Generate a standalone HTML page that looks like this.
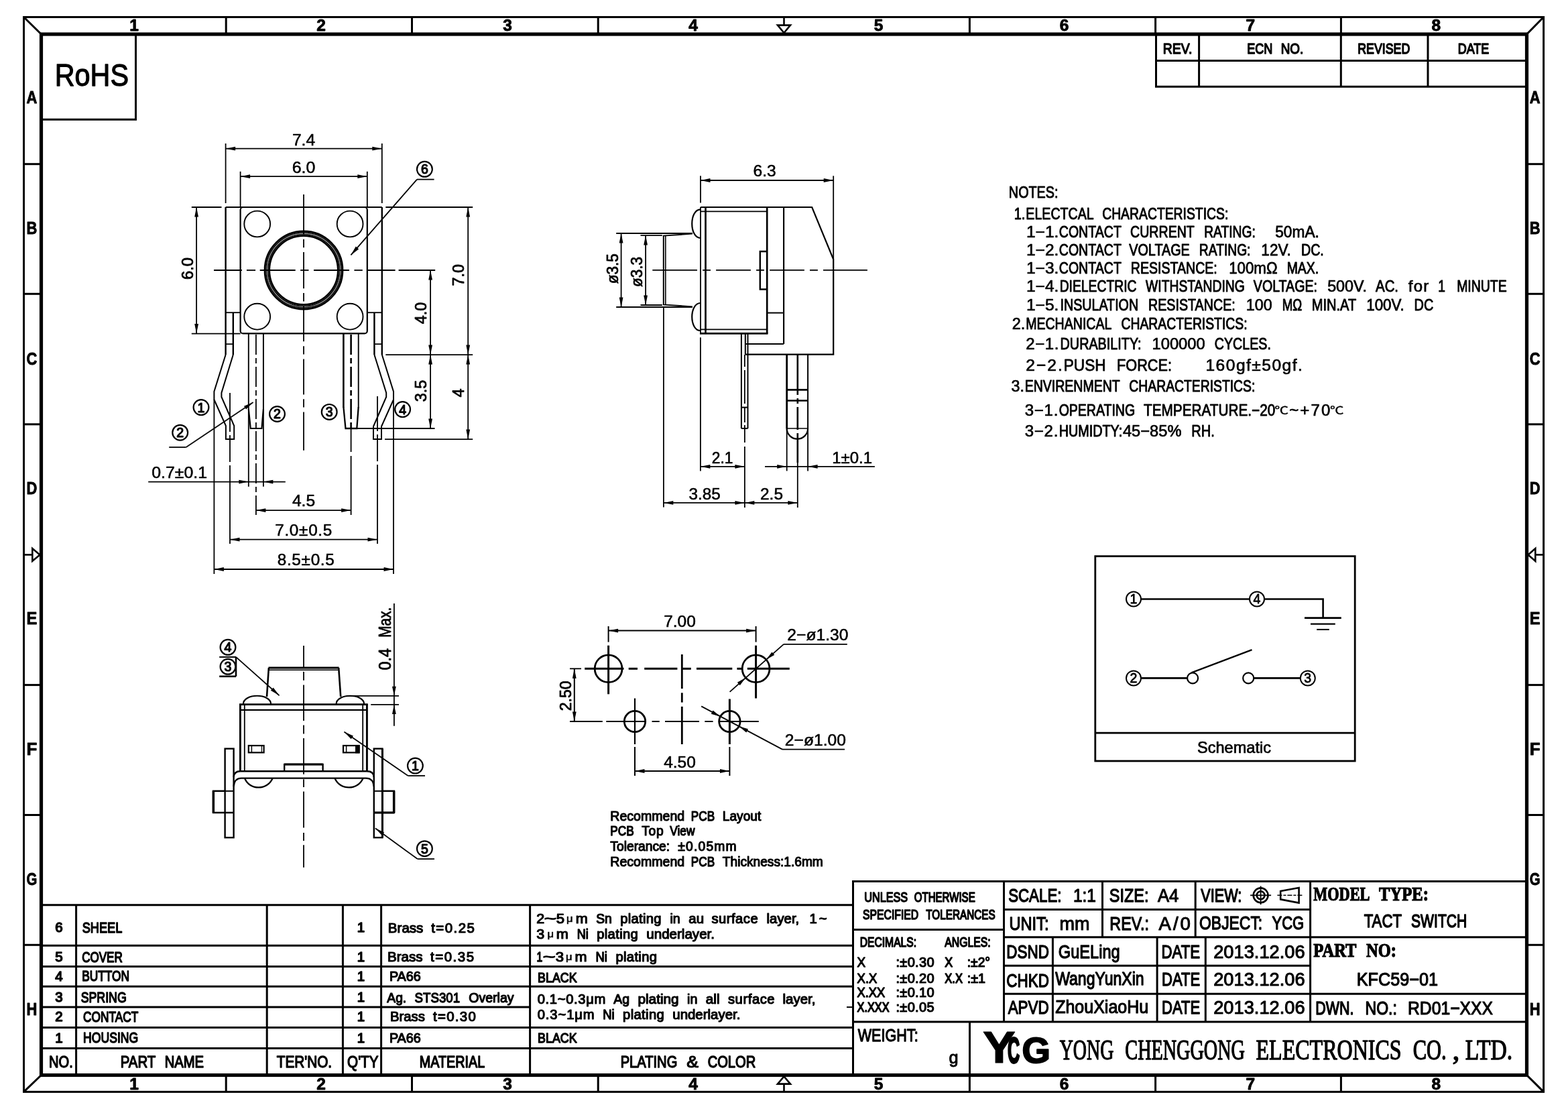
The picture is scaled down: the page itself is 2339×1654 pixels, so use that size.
<!DOCTYPE html>
<html lang="en"><head><meta charset="utf-8"><title>KFC59-01 TACT SWITCH</title>
<style>
html,body{margin:0;padding:0;background:#fff}
body{width:2339px;height:1654px;overflow:hidden}
svg{display:block;will-change:transform}
text{stroke:none;fill:#000;font-family:"Liberation Sans","Noto Sans CJK SC",sans-serif}
text.b{font-weight:bold}
text.s{font-family:"Liberation Serif","Noto Serif CJK SC",serif}
text.sb{font-family:"Liberation Serif","Noto Serif CJK SC",serif;font-weight:bold}
</style></head><body>
<svg width="2339" height="1654" viewBox="0 0 2339 1654" fill="none" stroke="#000">
<rect x="0" y="0" width="2339" height="1654" fill="#fff" stroke="none"/>
<g id="frame">
<rect x="35.5" y="25.5" width="2267.1" height="1602.9" stroke-width="3" fill="none"/>
<rect x="61.5" y="51" width="2216" height="1552.5" stroke-width="5.2" fill="none"/>
<line x1="35.5" y1="25.5" x2="61.5" y2="51" stroke-width="3"/>
<line x1="2302.6" y1="25.5" x2="2277.5" y2="51" stroke-width="3"/>
<line x1="35.5" y1="1628.4" x2="61.5" y2="1603.5" stroke-width="3"/>
<line x1="2302.6" y1="1628.4" x2="2277.5" y2="1603.5" stroke-width="3"/>
<line x1="337.2" y1="25.5" x2="337.2" y2="51" stroke-width="3"/>
<line x1="337.2" y1="1603.5" x2="337.2" y2="1628.4" stroke-width="3"/>
<line x1="614.5" y1="25.5" x2="614.5" y2="51" stroke-width="3"/>
<line x1="614.5" y1="1603.5" x2="614.5" y2="1628.4" stroke-width="3"/>
<line x1="892.2" y1="25.5" x2="892.2" y2="51" stroke-width="3"/>
<line x1="892.2" y1="1603.5" x2="892.2" y2="1628.4" stroke-width="3"/>
<line x1="1446.4" y1="25.5" x2="1446.4" y2="51" stroke-width="3"/>
<line x1="1446.4" y1="1603.5" x2="1446.4" y2="1628.4" stroke-width="3"/>
<line x1="1723.6" y1="25.5" x2="1723.6" y2="51" stroke-width="3"/>
<line x1="1723.6" y1="1603.5" x2="1723.6" y2="1628.4" stroke-width="3"/>
<line x1="2000.4" y1="25.5" x2="2000.4" y2="51" stroke-width="3"/>
<line x1="2000.4" y1="1603.5" x2="2000.4" y2="1628.4" stroke-width="3"/>
<line x1="35.5" y1="244.7" x2="61.5" y2="244.7" stroke-width="3"/>
<line x1="2277.5" y1="244.7" x2="2302.6" y2="244.7" stroke-width="3"/>
<line x1="35.5" y1="438.3" x2="61.5" y2="438.3" stroke-width="3"/>
<line x1="2277.5" y1="438.3" x2="2302.6" y2="438.3" stroke-width="3"/>
<line x1="35.5" y1="632.8" x2="61.5" y2="632.8" stroke-width="3"/>
<line x1="2277.5" y1="632.8" x2="2302.6" y2="632.8" stroke-width="3"/>
<line x1="35.5" y1="1021.6" x2="61.5" y2="1021.6" stroke-width="3"/>
<line x1="2277.5" y1="1021.6" x2="2302.6" y2="1021.6" stroke-width="3"/>
<line x1="35.5" y1="1215.5" x2="61.5" y2="1215.5" stroke-width="3"/>
<line x1="2277.5" y1="1215.5" x2="2302.6" y2="1215.5" stroke-width="3"/>
<line x1="35.5" y1="1409.3" x2="61.5" y2="1409.3" stroke-width="3"/>
<line x1="2277.5" y1="1409.3" x2="2302.6" y2="1409.3" stroke-width="3"/>
<line x1="1169.5" y1="25.5" x2="1169.5" y2="37.5" stroke-width="2.6"/>
<path d="M1160 37.6 L1179 37.6 L1169.5 49 Z" stroke-width="2.6" fill="none" stroke-linejoin="miter"/>
<line x1="1169.5" y1="1628.4" x2="1169.5" y2="1616.5" stroke-width="2.6"/>
<path d="M1160 1616.6 L1179 1616.6 L1169.5 1605.5 Z" stroke-width="2.6" fill="none" stroke-linejoin="miter"/>
<line x1="35.5" y1="827.4" x2="48" y2="827.4" stroke-width="2.6"/>
<path d="M48.3 818 L48.3 836.8 L59.5 827.4 Z" stroke-width="2.6" fill="none" stroke-linejoin="miter"/>
<line x1="2302.6" y1="827.4" x2="2290.5" y2="827.4" stroke-width="2.6"/>
<path d="M2290.3 818 L2290.3 836.8 L2279.5 827.4 Z" stroke-width="2.6" fill="none" stroke-linejoin="miter"/>
<text class="b" x="200" y="46.3" font-size="24.5" text-anchor="middle" style="stroke:#000;stroke-width:0.9px;stroke-linejoin:round">1</text>
<text class="b" x="200" y="1625" font-size="24.5" text-anchor="middle" style="stroke:#000;stroke-width:0.9px;stroke-linejoin:round">1</text>
<text class="b" x="479" y="46.3" font-size="24.5" text-anchor="middle" style="stroke:#000;stroke-width:0.9px;stroke-linejoin:round">2</text>
<text class="b" x="479" y="1625" font-size="24.5" text-anchor="middle" style="stroke:#000;stroke-width:0.9px;stroke-linejoin:round">2</text>
<text class="b" x="757" y="46.3" font-size="24.5" text-anchor="middle" style="stroke:#000;stroke-width:0.9px;stroke-linejoin:round">3</text>
<text class="b" x="757" y="1625" font-size="24.5" text-anchor="middle" style="stroke:#000;stroke-width:0.9px;stroke-linejoin:round">3</text>
<text class="b" x="1034" y="46.3" font-size="24.5" text-anchor="middle" style="stroke:#000;stroke-width:0.9px;stroke-linejoin:round">4</text>
<text class="b" x="1034" y="1625" font-size="24.5" text-anchor="middle" style="stroke:#000;stroke-width:0.9px;stroke-linejoin:round">4</text>
<text class="b" x="1310.5" y="46.3" font-size="24.5" text-anchor="middle" style="stroke:#000;stroke-width:0.9px;stroke-linejoin:round">5</text>
<text class="b" x="1310.5" y="1625" font-size="24.5" text-anchor="middle" style="stroke:#000;stroke-width:0.9px;stroke-linejoin:round">5</text>
<text class="b" x="1587.5" y="46.3" font-size="24.5" text-anchor="middle" style="stroke:#000;stroke-width:0.9px;stroke-linejoin:round">6</text>
<text class="b" x="1587.5" y="1625" font-size="24.5" text-anchor="middle" style="stroke:#000;stroke-width:0.9px;stroke-linejoin:round">6</text>
<text class="b" x="1865.3" y="46.3" font-size="24.5" text-anchor="middle" style="stroke:#000;stroke-width:0.9px;stroke-linejoin:round">7</text>
<text class="b" x="1865.3" y="1625" font-size="24.5" text-anchor="middle" style="stroke:#000;stroke-width:0.9px;stroke-linejoin:round">7</text>
<text class="b" x="2142.3" y="46.3" font-size="24.5" text-anchor="middle" style="stroke:#000;stroke-width:0.9px;stroke-linejoin:round">8</text>
<text class="b" x="2142.3" y="1625" font-size="24.5" text-anchor="middle" style="stroke:#000;stroke-width:0.9px;stroke-linejoin:round">8</text>
<text class="b" x="39.57" y="154.2" font-size="26.5" textLength="15.86" lengthAdjust="spacingAndGlyphs" style="stroke:#000;stroke-width:0.9px;stroke-linejoin:round">A</text>
<text class="b" x="2281.67" y="154.2" font-size="26.5" textLength="15.85" lengthAdjust="spacingAndGlyphs" style="stroke:#000;stroke-width:0.9px;stroke-linejoin:round">A</text>
<text class="b" x="39.57" y="349.2" font-size="26.5" textLength="15.86" lengthAdjust="spacingAndGlyphs" style="stroke:#000;stroke-width:0.9px;stroke-linejoin:round">B</text>
<text class="b" x="2281.67" y="349.2" font-size="26.5" textLength="15.85" lengthAdjust="spacingAndGlyphs" style="stroke:#000;stroke-width:0.9px;stroke-linejoin:round">B</text>
<text class="b" x="39.57" y="544.2" font-size="26.5" textLength="15.86" lengthAdjust="spacingAndGlyphs" style="stroke:#000;stroke-width:0.9px;stroke-linejoin:round">C</text>
<text class="b" x="2281.67" y="544.2" font-size="26.5" textLength="15.85" lengthAdjust="spacingAndGlyphs" style="stroke:#000;stroke-width:0.9px;stroke-linejoin:round">C</text>
<text class="b" x="39.57" y="737.2" font-size="26.5" textLength="15.86" lengthAdjust="spacingAndGlyphs" style="stroke:#000;stroke-width:0.9px;stroke-linejoin:round">D</text>
<text class="b" x="2281.67" y="737.2" font-size="26.5" textLength="15.85" lengthAdjust="spacingAndGlyphs" style="stroke:#000;stroke-width:0.9px;stroke-linejoin:round">D</text>
<text class="b" x="39.57" y="931.2" font-size="26.5" textLength="15.86" lengthAdjust="spacingAndGlyphs" style="stroke:#000;stroke-width:0.9px;stroke-linejoin:round">E</text>
<text class="b" x="2281.67" y="931.2" font-size="26.5" textLength="15.85" lengthAdjust="spacingAndGlyphs" style="stroke:#000;stroke-width:0.9px;stroke-linejoin:round">E</text>
<text class="b" x="39.57" y="1125.7" font-size="26.5" textLength="15.86" lengthAdjust="spacingAndGlyphs" style="stroke:#000;stroke-width:0.9px;stroke-linejoin:round">F</text>
<text class="b" x="2281.67" y="1125.7" font-size="26.5" textLength="15.85" lengthAdjust="spacingAndGlyphs" style="stroke:#000;stroke-width:0.9px;stroke-linejoin:round">F</text>
<text class="b" x="39.57" y="1320.2" font-size="26.5" textLength="15.86" lengthAdjust="spacingAndGlyphs" style="stroke:#000;stroke-width:0.9px;stroke-linejoin:round">G</text>
<text class="b" x="2281.67" y="1320.2" font-size="26.5" textLength="15.85" lengthAdjust="spacingAndGlyphs" style="stroke:#000;stroke-width:0.9px;stroke-linejoin:round">G</text>
<text class="b" x="39.57" y="1514.2" font-size="26.5" textLength="15.86" lengthAdjust="spacingAndGlyphs" style="stroke:#000;stroke-width:0.9px;stroke-linejoin:round">H</text>
<text class="b" x="2281.67" y="1514.2" font-size="26.5" textLength="15.85" lengthAdjust="spacingAndGlyphs" style="stroke:#000;stroke-width:0.9px;stroke-linejoin:round">H</text>
<line x1="202.5" y1="51" x2="202.5" y2="178.3" stroke-width="3"/>
<line x1="61.5" y1="178.3" x2="204" y2="178.3" stroke-width="3"/>
<text class="t" x="81.76" y="128.2" font-size="47" textLength="110.19" lengthAdjust="spacingAndGlyphs" style="stroke:#000;stroke-width:1.26px;stroke-linejoin:round">RoHS</text>
<line x1="1724.5" y1="51" x2="1724.5" y2="129.2" stroke-width="3"/>
<line x1="1723" y1="129.2" x2="2277.5" y2="129.2" stroke-width="3"/>
<line x1="1723" y1="90.4" x2="2277.5" y2="90.4" stroke-width="3"/>
<line x1="1788.6" y1="51" x2="1788.6" y2="129.2" stroke-width="3"/>
<line x1="2000.3" y1="51" x2="2000.3" y2="129.2" stroke-width="3"/>
<line x1="2130" y1="51" x2="2130" y2="129.2" stroke-width="3"/>
<text class="t" x="1734.72" y="79.8" font-size="22.4" textLength="43.57" lengthAdjust="spacingAndGlyphs" style="stroke:#000;stroke-width:1.37px;stroke-linejoin:round">REV.</text>
<text class="t" x="1860.22" y="79.8" font-size="22.4" textLength="38.07" lengthAdjust="spacingAndGlyphs" style="stroke:#000;stroke-width:1.49px;stroke-linejoin:round">ECN</text>
<text class="t" x="1910.72" y="79.8" font-size="22.4" textLength="33.57" lengthAdjust="spacingAndGlyphs" style="stroke:#000;stroke-width:1.41px;stroke-linejoin:round">NO.</text>
<text class="t" x="2025.22" y="79.8" font-size="22.4" textLength="78.07" lengthAdjust="spacingAndGlyphs" style="stroke:#000;stroke-width:1.51px;stroke-linejoin:round">REVISED</text>
<text class="t" x="2174.72" y="79.8" font-size="22.4" textLength="46.57" lengthAdjust="spacingAndGlyphs" style="stroke:#000;stroke-width:1.5px;stroke-linejoin:round">DATE</text>
</g>
<g id="bom">
<line x1="61.5" y1="1349.8" x2="1272.5" y2="1349.8" stroke-width="3"/>
<line x1="61.5" y1="1410.3" x2="1272.5" y2="1410.3" stroke-width="3"/>
<line x1="61.5" y1="1441.5" x2="1272.5" y2="1441.5" stroke-width="3"/>
<line x1="61.5" y1="1471.2" x2="1272.5" y2="1471.2" stroke-width="3"/>
<line x1="61.5" y1="1532.5" x2="1272.5" y2="1532.5" stroke-width="3"/>
<line x1="61.5" y1="1563.6" x2="1272.5" y2="1563.6" stroke-width="3"/>
<line x1="61.5" y1="1502.1" x2="790.6" y2="1502.1" stroke-width="3"/>
<line x1="113.6" y1="1349.8" x2="113.6" y2="1603.5" stroke-width="3"/>
<line x1="398.2" y1="1349.8" x2="398.2" y2="1603.5" stroke-width="3"/>
<line x1="511.4" y1="1349.8" x2="511.4" y2="1603.5" stroke-width="3"/>
<line x1="568.6" y1="1349.8" x2="568.6" y2="1603.5" stroke-width="3"/>
<line x1="790.6" y1="1349.8" x2="790.6" y2="1603.5" stroke-width="3"/>
<text class="t" x="88" y="1390" font-size="20.4" text-anchor="middle" style="stroke:#000;stroke-width:1.5px;stroke-linejoin:round">6</text>
<text class="t" x="88" y="1434" font-size="20.4" text-anchor="middle" style="stroke:#000;stroke-width:1.5px;stroke-linejoin:round">5</text>
<text class="t" x="88" y="1463.3" font-size="20.4" text-anchor="middle" style="stroke:#000;stroke-width:1.5px;stroke-linejoin:round">4</text>
<text class="t" x="88" y="1493.6" font-size="20.4" text-anchor="middle" style="stroke:#000;stroke-width:1.5px;stroke-linejoin:round">3</text>
<text class="t" x="88" y="1522.6" font-size="20.4" text-anchor="middle" style="stroke:#000;stroke-width:1.5px;stroke-linejoin:round">2</text>
<text class="t" x="88" y="1554.6" font-size="20.4" text-anchor="middle" style="stroke:#000;stroke-width:1.5px;stroke-linejoin:round">1</text>
<text class="t" x="538.4" y="1390" font-size="20.4" text-anchor="middle" style="stroke:#000;stroke-width:1.5px;stroke-linejoin:round">1</text>
<text class="t" x="538.4" y="1434" font-size="20.4" text-anchor="middle" style="stroke:#000;stroke-width:1.5px;stroke-linejoin:round">1</text>
<text class="t" x="538.4" y="1463.3" font-size="20.4" text-anchor="middle" style="stroke:#000;stroke-width:1.5px;stroke-linejoin:round">1</text>
<text class="t" x="538.4" y="1493.6" font-size="20.4" text-anchor="middle" style="stroke:#000;stroke-width:1.5px;stroke-linejoin:round">1</text>
<text class="t" x="538.4" y="1522.6" font-size="20.4" text-anchor="middle" style="stroke:#000;stroke-width:1.5px;stroke-linejoin:round">1</text>
<text class="t" x="538.4" y="1554.6" font-size="20.4" text-anchor="middle" style="stroke:#000;stroke-width:1.5px;stroke-linejoin:round">1</text>
<text class="t" x="122.65" y="1391.4" font-size="21.5" textLength="59.6" lengthAdjust="spacingAndGlyphs" style="stroke:#000;stroke-width:1.41px;stroke-linejoin:round">SHEEL</text>
<text class="t" x="122.15" y="1435.4" font-size="21.5" textLength="60.6" lengthAdjust="spacingAndGlyphs" style="stroke:#000;stroke-width:1.52px;stroke-linejoin:round">COVER</text>
<text class="t" x="122.15" y="1463.2" font-size="21.5" textLength="70.8" lengthAdjust="spacingAndGlyphs" style="stroke:#000;stroke-width:1.49px;stroke-linejoin:round">BUTTON</text>
<text class="t" x="120.65" y="1495" font-size="21.5" textLength="68.1" lengthAdjust="spacingAndGlyphs" style="stroke:#000;stroke-width:1.45px;stroke-linejoin:round">SPRING</text>
<text class="t" x="124.05" y="1524" font-size="21.5" textLength="82.2" lengthAdjust="spacingAndGlyphs" style="stroke:#000;stroke-width:1.49px;stroke-linejoin:round">CONTACT</text>
<text class="t" x="124.05" y="1554.6" font-size="21.5" textLength="82.2" lengthAdjust="spacingAndGlyphs" style="stroke:#000;stroke-width:1.46px;stroke-linejoin:round">HOUSING</text>
<text class="t" x="73.06" y="1591.8" font-size="24" textLength="35.68" lengthAdjust="spacingAndGlyphs" style="stroke:#000;stroke-width:1.42px;stroke-linejoin:round">NO.</text>
<text class="t" x="179.76" y="1591.8" font-size="24" textLength="52.58" lengthAdjust="spacingAndGlyphs" style="stroke:#000;stroke-width:1.39px;stroke-linejoin:round">PART</text>
<text class="t" x="245.66" y="1591.8" font-size="24" textLength="58.38" lengthAdjust="spacingAndGlyphs" style="stroke:#000;stroke-width:1.41px;stroke-linejoin:round">NAME</text>
<text class="t" x="412.76" y="1591.8" font-size="24" textLength="82.38" lengthAdjust="spacingAndGlyphs" style="stroke:#000;stroke-width:1.37px;stroke-linejoin:round">TER&#x27;NO.</text>
<text class="t" x="518.06" y="1591.8" font-size="24" textLength="46.48" lengthAdjust="spacingAndGlyphs" style="stroke:#000;stroke-width:1.37px;stroke-linejoin:round">Q&#x27;TY</text>
<text class="t" x="625.76" y="1591.6" font-size="24" textLength="97.38" lengthAdjust="spacingAndGlyphs" style="stroke:#000;stroke-width:1.45px;stroke-linejoin:round">MATERIAL</text>
<text class="t" x="925.66" y="1591.6" font-size="24" textLength="84.68" lengthAdjust="spacingAndGlyphs" style="stroke:#000;stroke-width:1.42px;stroke-linejoin:round">PLATING</text>
<text class="t" x="1024.16" y="1591.6" font-size="24" textLength="17.68" lengthAdjust="spacingAndGlyphs" style="stroke:#000;stroke-width:1.15px;stroke-linejoin:round">&amp;</text>
<text class="t" x="1055.66" y="1591.6" font-size="24" textLength="71.58" lengthAdjust="spacingAndGlyphs" style="stroke:#000;stroke-width:1.42px;stroke-linejoin:round">COLOR</text>
</g>
<g id="bomtext">
<text class="t" x="578.89" y="1390.5" font-size="20.4" textLength="52.43" lengthAdjust="spacingAndGlyphs" style="stroke:#000;stroke-width:1.18px;stroke-linejoin:round">Brass</text>
<text class="t" x="643.19" y="1390.5" font-size="20.4" textLength="64.63" lengthAdjust="spacing" style="stroke:#000;stroke-width:1.18px;stroke-linejoin:round">t=0.25</text>
<text class="t" x="578.09" y="1434.4" font-size="20.4" textLength="52.43" lengthAdjust="spacingAndGlyphs" style="stroke:#000;stroke-width:1.18px;stroke-linejoin:round">Brass</text>
<text class="t" x="642.09" y="1434.4" font-size="20.4" textLength="64.93" lengthAdjust="spacing" style="stroke:#000;stroke-width:1.18px;stroke-linejoin:round">t=0.35</text>
<text class="t" x="580.89" y="1463.4" font-size="20.4" textLength="46.93" lengthAdjust="spacingAndGlyphs" style="stroke:#000;stroke-width:1.22px;stroke-linejoin:round">PA66</text>
<text class="t" x="577.29" y="1494.7" font-size="20.4" textLength="28.93" lengthAdjust="spacingAndGlyphs" style="stroke:#000;stroke-width:1.25px;stroke-linejoin:round">Ag.</text>
<text class="t" x="618.59" y="1494.7" font-size="20.4" textLength="67.53" lengthAdjust="spacingAndGlyphs" style="stroke:#000;stroke-width:1.3px;stroke-linejoin:round">STS301</text>
<text class="t" x="699.29" y="1494.7" font-size="20.4" textLength="67.33" lengthAdjust="spacingAndGlyphs" style="stroke:#000;stroke-width:1.24px;stroke-linejoin:round">Overlay</text>
<text class="t" x="581.99" y="1522.6" font-size="20.4" textLength="51.93" lengthAdjust="spacingAndGlyphs" style="stroke:#000;stroke-width:1.18px;stroke-linejoin:round">Brass</text>
<text class="t" x="645.99" y="1522.6" font-size="20.4" textLength="63.73" lengthAdjust="spacing" style="stroke:#000;stroke-width:1.18px;stroke-linejoin:round">t=0.30</text>
<text class="t" x="580.89" y="1555.1" font-size="20.4" textLength="46.93" lengthAdjust="spacingAndGlyphs" style="stroke:#000;stroke-width:1.22px;stroke-linejoin:round">PA66</text>
<text class="t" x="800.39" y="1376.7" font-size="20.2" textLength="11.91" lengthAdjust="spacingAndGlyphs" style="stroke:#000;stroke-width:1.18px;stroke-linejoin:round">2</text>
<text class="t" x="811.79" y="1376.7" font-size="20.2" textLength="18.41" lengthAdjust="spacingAndGlyphs" style="stroke:#000;stroke-width:1.18px;stroke-linejoin:round">~</text>
<text class="t" x="829.79" y="1376.7" font-size="20.2" textLength="12.31" lengthAdjust="spacingAndGlyphs" style="stroke:#000;stroke-width:1.18px;stroke-linejoin:round">5</text>
<text class="t" x="858.69" y="1376.7" font-size="20.2" textLength="18.01" lengthAdjust="spacingAndGlyphs" style="stroke:#000;stroke-width:1.18px;stroke-linejoin:round">m</text>
<text class="t" x="889.19" y="1376.7" font-size="20.2" textLength="23.61" lengthAdjust="spacingAndGlyphs" style="stroke:#000;stroke-width:1.24px;stroke-linejoin:round">Sn</text>
<text class="t" x="925.19" y="1376.7" font-size="20.2" textLength="61.41" lengthAdjust="spacing" style="stroke:#000;stroke-width:1.18px;stroke-linejoin:round">plating</text>
<text class="t" x="999.49" y="1376.7" font-size="20.2" textLength="15.31" lengthAdjust="spacingAndGlyphs" style="stroke:#000;stroke-width:1.21px;stroke-linejoin:round">in</text>
<text class="t" x="1027.29" y="1376.7" font-size="20.2" textLength="22.71" lengthAdjust="spacingAndGlyphs" style="stroke:#000;stroke-width:1.18px;stroke-linejoin:round">au</text>
<text class="t" x="1061.39" y="1376.7" font-size="20.2" textLength="69.31" lengthAdjust="spacing" style="stroke:#000;stroke-width:1.18px;stroke-linejoin:round">surface</text>
<text class="t" x="1143.59" y="1376.7" font-size="20.2" textLength="48.71" lengthAdjust="spacingAndGlyphs" style="stroke:#000;stroke-width:1.18px;stroke-linejoin:round">layer,</text>
<text class="t" x="1207.59" y="1376.7" font-size="20.2" textLength="25.91" lengthAdjust="spacing" style="stroke:#000;stroke-width:1.18px;stroke-linejoin:round">1~</text>
<text class="t" x="800.39" y="1399.5" font-size="20.2" textLength="11.91" lengthAdjust="spacingAndGlyphs" style="stroke:#000;stroke-width:1.18px;stroke-linejoin:round">3</text>
<text class="t" x="829.79" y="1399.5" font-size="20.2" textLength="18.11" lengthAdjust="spacingAndGlyphs" style="stroke:#000;stroke-width:1.18px;stroke-linejoin:round">m</text>
<text class="t" x="860.79" y="1399.5" font-size="20.2" textLength="17.01" lengthAdjust="spacingAndGlyphs" style="stroke:#000;stroke-width:1.34px;stroke-linejoin:round">Ni</text>
<text class="t" x="890.19" y="1399.5" font-size="20.2" textLength="61.61" lengthAdjust="spacing" style="stroke:#000;stroke-width:1.18px;stroke-linejoin:round">plating</text>
<text class="t" x="964.29" y="1399.5" font-size="20.2" textLength="101.71" lengthAdjust="spacingAndGlyphs" style="stroke:#000;stroke-width:1.18px;stroke-linejoin:round">underlayer.</text>
<text class="t" x="800.49" y="1433.9" font-size="20.2" textLength="8.71" lengthAdjust="spacingAndGlyphs" style="stroke:#000;stroke-width:1.55px;stroke-linejoin:round">1</text>
<text class="t" x="809.79" y="1433.9" font-size="20.2" textLength="18.91" lengthAdjust="spacingAndGlyphs" style="stroke:#000;stroke-width:1.18px;stroke-linejoin:round">~</text>
<text class="t" x="828.79" y="1433.9" font-size="20.2" textLength="12.31" lengthAdjust="spacingAndGlyphs" style="stroke:#000;stroke-width:1.18px;stroke-linejoin:round">3</text>
<text class="t" x="857.59" y="1433.9" font-size="20.2" textLength="18.01" lengthAdjust="spacingAndGlyphs" style="stroke:#000;stroke-width:1.18px;stroke-linejoin:round">m</text>
<text class="t" x="888.49" y="1433.9" font-size="20.2" textLength="17.41" lengthAdjust="spacingAndGlyphs" style="stroke:#000;stroke-width:1.3px;stroke-linejoin:round">Ni</text>
<text class="t" x="918.39" y="1433.9" font-size="20.2" textLength="61.61" lengthAdjust="spacing" style="stroke:#000;stroke-width:1.18px;stroke-linejoin:round">plating</text>
<text class="t" x="845.08" y="1374.7" font-size="15" textLength="9.55" lengthAdjust="spacingAndGlyphs" style="stroke:#000;stroke-width:0.59px;stroke-linejoin:round">μ</text>
<text class="t" x="816.48" y="1397.5" font-size="15" textLength="9.55" lengthAdjust="spacingAndGlyphs" style="stroke:#000;stroke-width:0.59px;stroke-linejoin:round">μ</text>
<text class="t" x="844.08" y="1431.9" font-size="15" textLength="9.55" lengthAdjust="spacingAndGlyphs" style="stroke:#000;stroke-width:0.59px;stroke-linejoin:round">μ</text>
<text class="t" x="802.09" y="1465.2" font-size="20.4" textLength="58.63" lengthAdjust="spacingAndGlyphs" style="stroke:#000;stroke-width:1.36px;stroke-linejoin:round">BLACK</text>
<text class="t" x="801.69" y="1497.3" font-size="20.2" textLength="101.71" lengthAdjust="spacing" style="stroke:#000;stroke-width:1.18px;stroke-linejoin:round">0.1~0.3μm</text>
<text class="t" x="915.19" y="1497.3" font-size="20.2" textLength="23.81" lengthAdjust="spacingAndGlyphs" style="stroke:#000;stroke-width:1.23px;stroke-linejoin:round">Ag</text>
<text class="t" x="951.49" y="1497.3" font-size="20.2" textLength="61.11" lengthAdjust="spacingAndGlyphs" style="stroke:#000;stroke-width:1.18px;stroke-linejoin:round">plating</text>
<text class="t" x="1025.09" y="1497.3" font-size="20.2" textLength="15.31" lengthAdjust="spacingAndGlyphs" style="stroke:#000;stroke-width:1.21px;stroke-linejoin:round">in</text>
<text class="t" x="1052.89" y="1497.3" font-size="20.2" textLength="20.61" lengthAdjust="spacingAndGlyphs" style="stroke:#000;stroke-width:1.18px;stroke-linejoin:round">all</text>
<text class="t" x="1085.89" y="1497.3" font-size="20.2" textLength="69.71" lengthAdjust="spacing" style="stroke:#000;stroke-width:1.18px;stroke-linejoin:round">surface</text>
<text class="t" x="1167.49" y="1497.3" font-size="20.2" textLength="48.91" lengthAdjust="spacingAndGlyphs" style="stroke:#000;stroke-width:1.18px;stroke-linejoin:round">layer,</text>
<text class="t" x="801.69" y="1520.3" font-size="20.2" textLength="85.01" lengthAdjust="spacing" style="stroke:#000;stroke-width:1.18px;stroke-linejoin:round">0.3~1μm</text>
<text class="t" x="899.19" y="1520.3" font-size="20.2" textLength="17.41" lengthAdjust="spacingAndGlyphs" style="stroke:#000;stroke-width:1.3px;stroke-linejoin:round">Ni</text>
<text class="t" x="929.09" y="1520.3" font-size="20.2" textLength="61.61" lengthAdjust="spacing" style="stroke:#000;stroke-width:1.18px;stroke-linejoin:round">plating</text>
<text class="t" x="1003.29" y="1520.3" font-size="20.2" textLength="101.11" lengthAdjust="spacingAndGlyphs" style="stroke:#000;stroke-width:1.18px;stroke-linejoin:round">underlayer.</text>
<text class="t" x="802.09" y="1555.1" font-size="20.4" textLength="58.63" lengthAdjust="spacingAndGlyphs" style="stroke:#000;stroke-width:1.36px;stroke-linejoin:round">BLACK</text>
</g>
<g id="title">
<line x1="1272.5" y1="1313.1" x2="1272.5" y2="1603.5" stroke-width="3"/>
<line x1="1271" y1="1314.6" x2="2277.5" y2="1314.6" stroke-width="3"/>
<line x1="1497.5" y1="1314.6" x2="1497.5" y2="1524" stroke-width="3"/>
<line x1="1272.5" y1="1386.5" x2="1497.5" y2="1386.5" stroke-width="3"/>
<line x1="1272.5" y1="1524" x2="2277.5" y2="1524" stroke-width="3"/>
<line x1="1446.5" y1="1524" x2="1446.5" y2="1603.5" stroke-width="3"/>
<line x1="1497.5" y1="1356.5" x2="1954.6" y2="1356.5" stroke-width="3"/>
<line x1="1497.5" y1="1397.8" x2="2277.5" y2="1397.8" stroke-width="3"/>
<line x1="1497.5" y1="1440.2" x2="1954.6" y2="1440.2" stroke-width="3"/>
<line x1="1497.5" y1="1482.3" x2="2277.5" y2="1482.3" stroke-width="3"/>
<line x1="1644.5" y1="1314.6" x2="1644.5" y2="1397.8" stroke-width="3"/>
<line x1="1783.2" y1="1314.6" x2="1783.2" y2="1397.8" stroke-width="3"/>
<line x1="1570.4" y1="1397.8" x2="1570.4" y2="1524" stroke-width="3"/>
<line x1="1726.1" y1="1397.8" x2="1726.1" y2="1524" stroke-width="3"/>
<line x1="1798.3" y1="1397.8" x2="1798.3" y2="1524" stroke-width="3"/>
<line x1="1954.6" y1="1314.6" x2="1954.6" y2="1524" stroke-width="3"/>
<line x1="1263" y1="1502.1" x2="1272.5" y2="1502.1" stroke-width="2"/>
<text class="t" x="1289.2" y="1344.7" font-size="20" textLength="65" lengthAdjust="spacingAndGlyphs" style="stroke:#000;stroke-width:1.48px;stroke-linejoin:round">UNLESS</text>
<text class="t" x="1363.8" y="1344.7" font-size="20" textLength="90.9" lengthAdjust="spacingAndGlyphs" style="stroke:#000;stroke-width:1.6px;stroke-linejoin:round">OTHERWISE</text>
<text class="t" x="1287.1" y="1371" font-size="20" textLength="83.1" lengthAdjust="spacingAndGlyphs" style="stroke:#000;stroke-width:1.53px;stroke-linejoin:round">SPECIFIED</text>
<text class="t" x="1381.3" y="1371" font-size="20" textLength="103.3" lengthAdjust="spacingAndGlyphs" style="stroke:#000;stroke-width:1.58px;stroke-linejoin:round">TOLERANCES</text>
<text class="t" x="1282.8" y="1411.7" font-size="20" textLength="84.2" lengthAdjust="spacingAndGlyphs" style="stroke:#000;stroke-width:1.54px;stroke-linejoin:round">DECIMALS:</text>
<text class="t" x="1409.3" y="1411.7" font-size="20" textLength="68.4" lengthAdjust="spacingAndGlyphs" style="stroke:#000;stroke-width:1.52px;stroke-linejoin:round">ANGLES:</text>
<text class="t" x="1278.6" y="1442.3" font-size="20" textLength="12.6" lengthAdjust="spacingAndGlyphs" style="stroke:#000;stroke-width:1.26px;stroke-linejoin:round">X</text>
<text class="t" x="1336.4" y="1442.3" font-size="20" textLength="57.2" lengthAdjust="spacing" style="stroke:#000;stroke-width:1.18px;stroke-linejoin:round">:±0.30</text>
<text class="t" x="1409.3" y="1442.3" font-size="20" textLength="11.9" lengthAdjust="spacingAndGlyphs" style="stroke:#000;stroke-width:1.34px;stroke-linejoin:round">X</text>
<text class="t" x="1442.7" y="1442.3" font-size="20" textLength="34.4" lengthAdjust="spacingAndGlyphs" style="stroke:#000;stroke-width:1.23px;stroke-linejoin:round">:±2°</text>
<text class="t" x="1278.6" y="1466.3" font-size="20" textLength="29.8" lengthAdjust="spacingAndGlyphs" style="stroke:#000;stroke-width:1.29px;stroke-linejoin:round">X.X</text>
<text class="t" x="1336.4" y="1466.3" font-size="20" textLength="57.2" lengthAdjust="spacing" style="stroke:#000;stroke-width:1.18px;stroke-linejoin:round">:±0.20</text>
<text class="t" x="1409.3" y="1466.3" font-size="20" textLength="26.6" lengthAdjust="spacingAndGlyphs" style="stroke:#000;stroke-width:1.45px;stroke-linejoin:round">X.X</text>
<text class="t" x="1442.7" y="1466.3" font-size="20" textLength="27.3" lengthAdjust="spacingAndGlyphs" style="stroke:#000;stroke-width:1.2px;stroke-linejoin:round">:±1</text>
<text class="t" x="1278.6" y="1487.4" font-size="20" textLength="41.6" lengthAdjust="spacingAndGlyphs" style="stroke:#000;stroke-width:1.3px;stroke-linejoin:round">X.XX</text>
<text class="t" x="1336.4" y="1487.4" font-size="20" textLength="57.2" lengthAdjust="spacing" style="stroke:#000;stroke-width:1.18px;stroke-linejoin:round">:±0.10</text>
<text class="t" x="1278.6" y="1508.8" font-size="20" textLength="48" lengthAdjust="spacingAndGlyphs" style="stroke:#000;stroke-width:1.47px;stroke-linejoin:round">X.XXX</text>
<text class="t" x="1336.4" y="1508.8" font-size="20" textLength="57.2" lengthAdjust="spacing" style="stroke:#000;stroke-width:1.18px;stroke-linejoin:round">:±0.05</text>
<text class="t" x="1279.77" y="1552.6" font-size="26.6" textLength="89.86" lengthAdjust="spacingAndGlyphs" style="stroke:#000;stroke-width:1.28px;stroke-linejoin:round">WEIGHT:</text>
<text class="t" x="1415.47" y="1585.9" font-size="26.6" textLength="14.06" lengthAdjust="spacingAndGlyphs" style="stroke:#000;stroke-width:1.02px;stroke-linejoin:round">g</text>
<text class="t" x="1504.13" y="1344.7" font-size="27.6" textLength="79.33" lengthAdjust="spacingAndGlyphs" style="stroke:#000;stroke-width:1.38px;stroke-linejoin:round">SCALE:</text>
<text class="t" x="1601.03" y="1344.7" font-size="27.6" textLength="33.93" lengthAdjust="spacingAndGlyphs" style="stroke:#000;stroke-width:1.22px;stroke-linejoin:round">1:1</text>
<text class="t" x="1654.83" y="1344.7" font-size="27.6" textLength="58.63" lengthAdjust="spacingAndGlyphs" style="stroke:#000;stroke-width:1.29px;stroke-linejoin:round">SIZE:</text>
<text class="t" x="1727.03" y="1344.7" font-size="27.6" textLength="31.33" lengthAdjust="spacingAndGlyphs" style="stroke:#000;stroke-width:1.14px;stroke-linejoin:round">A4</text>
<text class="t" x="1791.23" y="1345" font-size="27.6" textLength="61.03" lengthAdjust="spacingAndGlyphs" style="stroke:#000;stroke-width:1.43px;stroke-linejoin:round">VIEW:</text>
<text class="t" x="1505.53" y="1386.5" font-size="27.6" textLength="58.93" lengthAdjust="spacingAndGlyphs" style="stroke:#000;stroke-width:1.28px;stroke-linejoin:round">UNIT:</text>
<text class="t" x="1580.53" y="1386.5" font-size="27.6" textLength="44.93" lengthAdjust="spacingAndGlyphs" style="stroke:#000;stroke-width:1.06px;stroke-linejoin:round">mm</text>
<text class="t" x="1655.33" y="1386.5" font-size="27.6" textLength="58.63" lengthAdjust="spacingAndGlyphs" style="stroke:#000;stroke-width:1.31px;stroke-linejoin:round">REV.:</text>
<text class="t" x="1728.53" y="1386.5" font-size="27.6" textLength="47.43" lengthAdjust="spacing" style="stroke:#000;stroke-width:1.03px;stroke-linejoin:round">A/0</text>
<text class="t" x="1789.03" y="1386.4" font-size="27.6" textLength="94.23" lengthAdjust="spacingAndGlyphs" style="stroke:#000;stroke-width:1.33px;stroke-linejoin:round">OBJECT:</text>
<text class="t" x="1897.53" y="1386.4" font-size="27.6" textLength="47.73" lengthAdjust="spacingAndGlyphs" style="stroke:#000;stroke-width:1.4px;stroke-linejoin:round">YCG</text>
<text class="t" x="1501.23" y="1428.6" font-size="27.6" textLength="63.63" lengthAdjust="spacingAndGlyphs" style="stroke:#000;stroke-width:1.37px;stroke-linejoin:round">DSND</text>
<text class="t" x="1578.83" y="1428.6" font-size="27.6" textLength="91.83" lengthAdjust="spacingAndGlyphs" style="stroke:#000;stroke-width:1.28px;stroke-linejoin:round">GuELing</text>
<text class="t" x="1732.43" y="1428.6" font-size="27.6" textLength="57.73" lengthAdjust="spacingAndGlyphs" style="stroke:#000;stroke-width:1.38px;stroke-linejoin:round">DATE</text>
<text class="t" x="1810.23" y="1428.6" font-size="27.6" textLength="136.33" lengthAdjust="spacingAndGlyphs" style="stroke:#000;stroke-width:1.05px;stroke-linejoin:round">2013.12.06</text>
<text class="t" x="1501.23" y="1471.5" font-size="27.6" textLength="63.63" lengthAdjust="spacingAndGlyphs" style="stroke:#000;stroke-width:1.37px;stroke-linejoin:round">CHKD</text>
<text class="t" x="1574.13" y="1469" font-size="27.6" textLength="132.53" lengthAdjust="spacingAndGlyphs" style="stroke:#000;stroke-width:1.32px;stroke-linejoin:round">WangYunXin</text>
<text class="t" x="1733.03" y="1470.2" font-size="27.6" textLength="57.13" lengthAdjust="spacingAndGlyphs" style="stroke:#000;stroke-width:1.4px;stroke-linejoin:round">DATE</text>
<text class="t" x="1810.23" y="1470.2" font-size="27.6" textLength="136.33" lengthAdjust="spacingAndGlyphs" style="stroke:#000;stroke-width:1.05px;stroke-linejoin:round">2013.12.06</text>
<text class="t" x="1503.63" y="1511.7" font-size="27.6" textLength="61.23" lengthAdjust="spacingAndGlyphs" style="stroke:#000;stroke-width:1.37px;stroke-linejoin:round">APVD</text>
<text class="t" x="1574.13" y="1510.5" font-size="27.6" textLength="139.13" lengthAdjust="spacingAndGlyphs" style="stroke:#000;stroke-width:1.18px;stroke-linejoin:round">ZhouXiaoHu</text>
<text class="t" x="1733.03" y="1511.8" font-size="27.6" textLength="57.13" lengthAdjust="spacingAndGlyphs" style="stroke:#000;stroke-width:1.4px;stroke-linejoin:round">DATE</text>
<text class="t" x="1810.23" y="1511.8" font-size="27.6" textLength="136.33" lengthAdjust="spacingAndGlyphs" style="stroke:#000;stroke-width:1.05px;stroke-linejoin:round">2013.12.06</text>
<text class="sb" x="1959.2" y="1343.2" font-size="28.5" textLength="84.29" lengthAdjust="spacingAndGlyphs" style="stroke:#000;stroke-width:1.2px;stroke-linejoin:round">MODEL</text>
<text class="sb" x="2057" y="1343.2" font-size="28.5" textLength="73.89" lengthAdjust="spacingAndGlyphs" style="stroke:#000;stroke-width:1.2px;stroke-linejoin:round">TYPE:</text>
<text class="t" x="2034.73" y="1382.8" font-size="27.6" textLength="56.23" lengthAdjust="spacingAndGlyphs" style="stroke:#000;stroke-width:1.39px;stroke-linejoin:round">TACT</text>
<text class="t" x="2105.03" y="1382.8" font-size="27.6" textLength="83.23" lengthAdjust="spacingAndGlyphs" style="stroke:#000;stroke-width:1.49px;stroke-linejoin:round">SWITCH</text>
<text class="sb" x="1959.2" y="1427.2" font-size="28.5" textLength="64.29" lengthAdjust="spacingAndGlyphs" style="stroke:#000;stroke-width:1.2px;stroke-linejoin:round">PART</text>
<text class="sb" x="2038" y="1427.2" font-size="28.5" textLength="44.89" lengthAdjust="spacingAndGlyphs" style="stroke:#000;stroke-width:1.2px;stroke-linejoin:round">NO:</text>
<text class="t" x="2023.73" y="1470.4" font-size="27.6" textLength="121.23" lengthAdjust="spacingAndGlyphs" style="stroke:#000;stroke-width:1.17px;stroke-linejoin:round">KFC59−01</text>
<text class="t" x="1962.33" y="1513" font-size="27.6" textLength="57.13" lengthAdjust="spacingAndGlyphs" style="stroke:#000;stroke-width:1.46px;stroke-linejoin:round">DWN.</text>
<text class="t" x="2036.53" y="1513" font-size="27.6" textLength="47.43" lengthAdjust="spacingAndGlyphs" style="stroke:#000;stroke-width:1.32px;stroke-linejoin:round">NO.:</text>
<text class="t" x="2100.03" y="1513" font-size="27.6" textLength="126.93" lengthAdjust="spacingAndGlyphs" style="stroke:#000;stroke-width:1.2px;stroke-linejoin:round">RD01−XXX</text>
<circle cx="1880.6" cy="1335.3" r="10.9" stroke-width="2.6" fill="none"/>
<circle cx="1880.6" cy="1335.3" r="5.9" stroke-width="2.6" fill="none"/>
<line x1="1865.1" y1="1335.3" x2="1896.1" y2="1335.3" stroke-width="1.8"/>
<line x1="1880.6" y1="1321.5" x2="1880.6" y2="1349.1" stroke-width="1.8"/>
<path d="M1910.2 1329 L1937.6 1324 L1937.6 1346.6 L1910.2 1341.4 Z" stroke-width="2.6" fill="none"/>
<line x1="1905.4" y1="1335.3" x2="1942.8" y2="1335.3" stroke-width="1.6" stroke-dasharray="7 2 4 2"/>
<text class="s" x="1580.73" y="1579.9" font-size="42" textLength="80.54" lengthAdjust="spacingAndGlyphs" style="stroke:#000;stroke-width:1.3px;stroke-linejoin:round">YONG</text>
<text class="s" x="1678.33" y="1579.9" font-size="42" textLength="178.64" lengthAdjust="spacingAndGlyphs" style="stroke:#000;stroke-width:1.3px;stroke-linejoin:round">CHENGGONG</text>
<text class="s" x="1873.53" y="1579.9" font-size="42" textLength="217.14" lengthAdjust="spacingAndGlyphs" style="stroke:#000;stroke-width:1.3px;stroke-linejoin:round">ELECTRONICS</text>
<text class="s" x="2107.73" y="1579.9" font-size="42" textLength="49.94" lengthAdjust="spacingAndGlyphs" style="stroke:#000;stroke-width:1.3px;stroke-linejoin:round">CO.</text>
<text class="s" x="2166.53" y="1579.9" font-size="42" textLength="10.94" lengthAdjust="spacingAndGlyphs" style="stroke:#000;stroke-width:1.3px;stroke-linejoin:round">,</text>
<text class="s" x="2185.63" y="1579.9" font-size="42" textLength="70.64" lengthAdjust="spacingAndGlyphs" style="stroke:#000;stroke-width:1.3px;stroke-linejoin:round">LTD.</text>
<text class="b" x="1465.94" y="1585.2" font-size="67.5" textLength="48.83" lengthAdjust="spacingAndGlyphs" style="stroke:#000;stroke-width:1.2px;stroke-linejoin:round">Y</text>
<text class="b" x="1502.93" y="1585.4" font-size="53.5" textLength="18.14" lengthAdjust="spacingAndGlyphs" style="stroke:#000;stroke-width:3px;stroke-linejoin:round">C</text>
<text class="b" x="1524.53" y="1585.4" font-size="53.5" textLength="42.34" lengthAdjust="spacingAndGlyphs" style="stroke:#000;stroke-width:2px;stroke-linejoin:round">G</text>
</g>
<g id="top">
<rect x="358.6" y="309" width="189.2" height="188.4" rx="4" ry="4" stroke-width="2.2"/>
<line x1="336.6" y1="309" x2="569.8" y2="309" stroke-width="1.9"/>
<line x1="336.6" y1="309" x2="336.6" y2="529" stroke-width="2.4"/>
<line x1="569.8" y1="309" x2="569.8" y2="529" stroke-width="2.4"/>
<line x1="347.8" y1="466.2" x2="347.8" y2="529" stroke-width="2.4"/>
<line x1="558.4" y1="466.2" x2="558.4" y2="529" stroke-width="2.4"/>
<line x1="336.6" y1="466.2" x2="358.6" y2="466.2" stroke-width="1.8"/>
<line x1="547.8" y1="466.2" x2="569.8" y2="466.2" stroke-width="1.8"/>
<line x1="336.6" y1="513.2" x2="347.8" y2="513.2" stroke-width="1.8"/>
<line x1="558.4" y1="513.2" x2="569.8" y2="513.2" stroke-width="1.8"/>
<path d="M336.6 529 L319.4 584 L319.4 596 L336.9 635 L336.9 655 L349.2 655 L349.2 635 L330.4 592 L330.4 586 L347.8 529" stroke-width="2" fill="none"/>
<path d="M569.8 529 L587 584 L587 596 L569 636 L569 655 L557 655 L557 636 L576.2 592 L576.2 586 L558.4 529" stroke-width="2" fill="none"/>
<circle cx="383.7" cy="334" r="19.4" stroke-width="1.9" fill="none"/>
<circle cx="383.7" cy="472.2" r="19.4" stroke-width="1.9" fill="none"/>
<circle cx="522.1" cy="334" r="19.4" stroke-width="1.9" fill="none"/>
<circle cx="522.1" cy="472.2" r="19.4" stroke-width="1.9" fill="none"/>
<circle cx="453" cy="403" r="58" stroke-width="2.8" fill="none"/>
<circle cx="453" cy="403" r="51.3" stroke-width="2.8" fill="none"/>
<circle cx="453" cy="403" r="55.8" stroke-width="1.6" fill="none"/>
<circle cx="453" cy="403" r="53.5" stroke-width="1.6" fill="none"/>
<line x1="370.8" y1="497.4" x2="370.8" y2="611" stroke-width="1.9"/>
<line x1="392.9" y1="497.4" x2="392.9" y2="611" stroke-width="1.9"/>
<path d="M370.8 610 L373.8 639 L390.4 639 L392.9 610" stroke-width="2.2" fill="none"/>
<line x1="512.4" y1="497.4" x2="512.4" y2="608" stroke-width="2.6"/>
<line x1="534.7" y1="497.4" x2="534.7" y2="608" stroke-width="1.9"/>
<path d="M512.4 607 L515.5 639 L532.3 639 L534.7 607" stroke-width="2.3" fill="none"/>
<line x1="319" y1="403" x2="360.9" y2="403" stroke-width="1.8"/>
<line x1="367.9" y1="403" x2="381.1" y2="403" stroke-width="1.8"/>
<line x1="387.7" y1="403" x2="440.7" y2="403" stroke-width="1.8"/>
<line x1="448.1" y1="403" x2="460.5" y2="403" stroke-width="1.8"/>
<line x1="468" y1="403" x2="521" y2="403" stroke-width="1.8"/>
<line x1="528.4" y1="403" x2="540.8" y2="403" stroke-width="1.8"/>
<line x1="548.3" y1="403" x2="589.6" y2="403" stroke-width="1.8"/>
<line x1="594.6" y1="403" x2="649.2" y2="403" stroke-width="1.8"/>
<line x1="453" y1="289.9" x2="453" y2="350" stroke-width="1.8"/>
<line x1="453" y1="356.8" x2="453" y2="369.2" stroke-width="1.8"/>
<line x1="453" y1="376.1" x2="453" y2="430.2" stroke-width="1.8"/>
<line x1="453" y1="437.1" x2="453" y2="449.5" stroke-width="1.8"/>
<line x1="453" y1="456.4" x2="453" y2="509.3" stroke-width="1.8"/>
<line x1="453" y1="516.2" x2="453" y2="528.5" stroke-width="1.8"/>
<line x1="453" y1="535.4" x2="453" y2="588.4" stroke-width="1.8"/>
<line x1="453" y1="595.3" x2="453" y2="607.6" stroke-width="1.8"/>
<line x1="453" y1="614.5" x2="453" y2="671.8" stroke-width="1.8"/>
<line x1="381.9" y1="499" x2="381.9" y2="768" stroke-width="1.8" stroke-dasharray="30 5 8 5"/>
<line x1="523.6" y1="499" x2="523.6" y2="640" stroke-width="2.6" stroke-dasharray="30 5 8 5"/>
<line x1="523.6" y1="640" x2="523.6" y2="768" stroke-width="1.8" stroke-dasharray="34 6 100 0"/>
<line x1="343" y1="586" x2="343" y2="811" stroke-width="1.8" stroke-dasharray="58 5 40 5 200 0"/>
<line x1="563" y1="591" x2="563" y2="811" stroke-width="1.8" stroke-dasharray="52 5 40 5 200 0"/>
<line x1="336.6" y1="214" x2="336.6" y2="303" stroke-width="1.8"/>
<line x1="569.8" y1="214" x2="569.8" y2="303" stroke-width="1.8"/>
<line x1="358.6" y1="255.8" x2="358.6" y2="309" stroke-width="1.8"/>
<line x1="547.8" y1="255.8" x2="547.8" y2="309" stroke-width="1.8"/>
<line x1="285.8" y1="309" x2="330.5" y2="309" stroke-width="1.8"/>
<line x1="285.8" y1="497.6" x2="358.6" y2="497.6" stroke-width="1.8"/>
<line x1="575.3" y1="309" x2="705.2" y2="309" stroke-width="1.8"/>
<line x1="575.3" y1="529.1" x2="705.2" y2="529.1" stroke-width="1.8"/>
<line x1="574" y1="655.1" x2="705.2" y2="655.1" stroke-width="1.8"/>
<line x1="515" y1="639" x2="648.5" y2="639" stroke-width="1.8"/>
<line x1="370.8" y1="611" x2="370.8" y2="725.8" stroke-width="1.8"/>
<line x1="392.9" y1="611" x2="392.9" y2="725.8" stroke-width="1.8"/>
<line x1="319.4" y1="596" x2="319.4" y2="856" stroke-width="1.8"/>
<line x1="587" y1="596" x2="587" y2="856" stroke-width="1.8"/>
<line x1="336.6" y1="221.7" x2="569.8" y2="221.7" stroke-width="1.8"/>
<path d="M336.6 221.7 L351.1 218.8 L351.1 224.6 Z" fill="#000" stroke="none"/>
<path d="M569.8 221.7 L555.3 224.6 L555.3 218.8 Z" fill="#000" stroke="none"/>
<text class="t" x="435.9" y="216.6" font-size="24.3" textLength="34.2" lengthAdjust="spacingAndGlyphs" style="stroke:#000;stroke-width:0.56px;stroke-linejoin:round">7.4</text>
<line x1="358.6" y1="263.2" x2="547.8" y2="263.2" stroke-width="1.8"/>
<path d="M358.6 263.2 L373.1 260.3 L373.1 266.1 Z" fill="#000" stroke="none"/>
<path d="M547.8 263.2 L533.3 266.1 L533.3 260.3 Z" fill="#000" stroke="none"/>
<text class="t" x="435.65" y="257.6" font-size="24.3" textLength="34.7" lengthAdjust="spacingAndGlyphs" style="stroke:#000;stroke-width:0.56px;stroke-linejoin:round">6.0</text>
<line x1="293.1" y1="309" x2="293.1" y2="497.6" stroke-width="1.8"/>
<path d="M293.1 309 L296 323.5 L290.2 323.5 Z" fill="#000" stroke="none"/>
<path d="M293.1 497.6 L290.2 483.1 L296 483.1 Z" fill="#000" stroke="none"/>
<text class="t" font-size="24.3" textLength="33" lengthAdjust="spacingAndGlyphs" style="stroke:#000;stroke-width:0.85px;stroke-linejoin:round" transform="translate(287.6 417) rotate(-90)" x="0" y="0">6.0</text>
<line x1="698.2" y1="309" x2="698.2" y2="529.1" stroke-width="1.8"/>
<path d="M698.2 309 L701.1 323.5 L695.3 323.5 Z" fill="#000" stroke="none"/>
<path d="M698.2 529.1 L695.3 514.6 L701.1 514.6 Z" fill="#000" stroke="none"/>
<text class="t" font-size="24.3" textLength="32.5" lengthAdjust="spacingAndGlyphs" style="stroke:#000;stroke-width:0.85px;stroke-linejoin:round" transform="translate(692.2 426.55) rotate(-90)" x="0" y="0">7.0</text>
<line x1="642.1" y1="403" x2="642.1" y2="529.1" stroke-width="1.8"/>
<path d="M642.1 403 L645 417.5 L639.2 417.5 Z" fill="#000" stroke="none"/>
<path d="M642.1 529.1 L639.2 514.6 L645 514.6 Z" fill="#000" stroke="none"/>
<text class="t" font-size="24.3" textLength="32.5" lengthAdjust="spacingAndGlyphs" style="stroke:#000;stroke-width:0.85px;stroke-linejoin:round" transform="translate(636.4 483.25) rotate(-90)" x="0" y="0">4.0</text>
<line x1="642.1" y1="529.1" x2="642.1" y2="639" stroke-width="1.8"/>
<path d="M642.1 529.1 L645 543.6 L639.2 543.6 Z" fill="#000" stroke="none"/>
<path d="M642.1 639 L639.2 624.5 L645 624.5 Z" fill="#000" stroke="none"/>
<text class="t" font-size="24.3" textLength="32.5" lengthAdjust="spacingAndGlyphs" style="stroke:#000;stroke-width:0.85px;stroke-linejoin:round" transform="translate(636.4 599.25) rotate(-90)" x="0" y="0">3.5</text>
<line x1="698.2" y1="529.1" x2="698.2" y2="655.1" stroke-width="1.8"/>
<path d="M698.2 529.1 L701.1 543.6 L695.3 543.6 Z" fill="#000" stroke="none"/>
<path d="M698.2 655.1 L695.3 640.6 L701.1 640.6 Z" fill="#000" stroke="none"/>
<text class="t" font-size="24.3" textLength="13" lengthAdjust="spacingAndGlyphs" style="stroke:#000;stroke-width:0.85px;stroke-linejoin:round" transform="translate(692.2 592.5) rotate(-90)" x="0" y="0">4</text>
<line x1="221.2" y1="718.6" x2="425.8" y2="718.6" stroke-width="1.8"/>
<path d="M370.8 718.6 L356.3 721.5 L356.3 715.7 Z" fill="#000" stroke="none"/>
<path d="M392.9 718.6 L407.4 715.7 L407.4 721.5 Z" fill="#000" stroke="none"/>
<text class="t" x="226.15" y="713.4" font-size="24.3" textLength="82.9" lengthAdjust="spacingAndGlyphs" style="stroke:#000;stroke-width:0.56px;stroke-linejoin:round">0.7±0.1</text>
<line x1="381.9" y1="761.1" x2="523.6" y2="761.1" stroke-width="1.8"/>
<path d="M381.9 761.1 L396.4 758.2 L396.4 764 Z" fill="#000" stroke="none"/>
<path d="M523.6 761.1 L509.1 764 L509.1 758.2 Z" fill="#000" stroke="none"/>
<text class="t" x="435.9" y="755.3" font-size="24.3" textLength="34.2" lengthAdjust="spacingAndGlyphs" style="stroke:#000;stroke-width:0.56px;stroke-linejoin:round">4.5</text>
<line x1="343" y1="804.7" x2="563" y2="804.7" stroke-width="1.8"/>
<path d="M343 804.7 L357.5 801.8 L357.5 807.6 Z" fill="#000" stroke="none"/>
<path d="M563 804.7 L548.5 807.6 L548.5 801.8 Z" fill="#000" stroke="none"/>
<text class="t" x="410.15" y="798.7" font-size="24.3" textLength="85.2" lengthAdjust="spacing" style="stroke:#000;stroke-width:0.56px;stroke-linejoin:round">7.0±0.5</text>
<line x1="319.4" y1="849" x2="587" y2="849" stroke-width="1.8"/>
<path d="M319.4 849 L333.9 846.1 L333.9 851.9 Z" fill="#000" stroke="none"/>
<path d="M587 849 L572.5 851.9 L572.5 846.1 Z" fill="#000" stroke="none"/>
<text class="t" x="413.65" y="843.4" font-size="24.3" textLength="85.2" lengthAdjust="spacing" style="stroke:#000;stroke-width:0.56px;stroke-linejoin:round">8.5±0.5</text>
<circle cx="633.4" cy="252.3" r="11.4" stroke-width="2.2" fill="none"/>
<text class="t" x="633.4" y="259.2" font-size="19.5" text-anchor="middle" style="stroke:#000;stroke-width:1.2px;stroke-linejoin:round">6</text>
<line x1="622" y1="267.6" x2="647.6" y2="267.6" stroke-width="1.8"/>
<line x1="622" y1="267.6" x2="523.4" y2="380.4" stroke-width="1.8"/>
<path d="M523.4 380.4 L530.77 367.58 L535.13 371.4 Z" fill="#000" stroke="none"/>
<circle cx="300" cy="607.6" r="11.4" stroke-width="2.2" fill="none"/>
<text class="t" x="300" y="614.5" font-size="19.5" text-anchor="middle" style="stroke:#000;stroke-width:1.2px;stroke-linejoin:round">1</text>
<circle cx="413.5" cy="617.5" r="11.4" stroke-width="2.2" fill="none"/>
<text class="t" x="413.5" y="624.4" font-size="19.5" text-anchor="middle" style="stroke:#000;stroke-width:1.2px;stroke-linejoin:round">2</text>
<circle cx="491.2" cy="614.4" r="11.4" stroke-width="2.2" fill="none"/>
<text class="t" x="491.2" y="621.3" font-size="19.5" text-anchor="middle" style="stroke:#000;stroke-width:1.2px;stroke-linejoin:round">3</text>
<circle cx="600.6" cy="610.6" r="11.4" stroke-width="2.2" fill="none"/>
<text class="t" x="600.6" y="617.5" font-size="19.5" text-anchor="middle" style="stroke:#000;stroke-width:1.2px;stroke-linejoin:round">4</text>
<circle cx="268.7" cy="645.2" r="11.4" stroke-width="2.2" fill="none"/>
<text class="t" x="268.7" y="652.1" font-size="19.5" text-anchor="middle" style="stroke:#000;stroke-width:1.2px;stroke-linejoin:round">2</text>
<line x1="252.2" y1="667" x2="277.6" y2="667" stroke-width="1.8"/>
<line x1="277.6" y1="667" x2="377.6" y2="600" stroke-width="1.8"/>
<path d="M377.6 600 L367.16 610.48 L363.94 605.66 Z" fill="#000" stroke="none"/>
</g>
<g id="side">
<path d="M1045 309 L1211.2 309 L1243.2 386.8 L1243.2 528.7 L1111.8 528.7" stroke-width="2.2" fill="none"/>
<line x1="1243.2" y1="262.3" x2="1243.2" y2="386.8" stroke-width="1.8"/>
<line x1="1045" y1="309" x2="1045" y2="497.3" stroke-width="1.8"/>
<line x1="1052.5" y1="309" x2="1052.5" y2="497.3" stroke-width="2.7"/>
<line x1="1045" y1="315.3" x2="1144" y2="315.3" stroke-width="1.8"/>
<line x1="1144.2" y1="309" x2="1144.2" y2="497.3" stroke-width="2.7"/>
<line x1="1169.1" y1="309" x2="1169.1" y2="513" stroke-width="2.2"/>
<line x1="1045" y1="491.3" x2="1144" y2="491.3" stroke-width="1.8"/>
<line x1="1044" y1="497.3" x2="1145.5" y2="497.3" stroke-width="2.8"/>
<line x1="1144.2" y1="466.6" x2="1169.1" y2="466.6" stroke-width="2"/>
<path d="M1144 375 L1133.8 375 L1133.8 431.5 L1144 431.5" stroke-width="2.4" fill="none"/>
<path d="M1045 312.3 C1028 312.3 1028 355 1045 355" stroke-width="2.2" fill="none"/>
<path d="M1045 452 C1028 452 1028 493.2 1045 493.2" stroke-width="2.2" fill="none"/>
<path d="M1033 348.6 L989.8 351.6 L989.8 454.4 L1033 457.4" stroke-width="2" fill="none"/>
<line x1="992.8" y1="351.6" x2="992.8" y2="454.4" stroke-width="1.6"/>
<line x1="1105.9" y1="497.3" x2="1105.9" y2="639" stroke-width="2"/>
<line x1="1115.5" y1="497.3" x2="1115.5" y2="639" stroke-width="2"/>
<line x1="1105.9" y1="607.6" x2="1115.5" y2="607.6" stroke-width="2"/>
<line x1="1105.9" y1="639" x2="1115.5" y2="639" stroke-width="2"/>
<line x1="1111.8" y1="497.3" x2="1111.8" y2="528.7" stroke-width="2"/>
<line x1="1111.8" y1="513" x2="1169.1" y2="513" stroke-width="2.2"/>
<line x1="1173.7" y1="528.7" x2="1173.7" y2="639" stroke-width="2.8"/>
<line x1="1205.1" y1="528.7" x2="1205.1" y2="639" stroke-width="2"/>
<line x1="1173.7" y1="581.4" x2="1205.1" y2="581.4" stroke-width="2.6"/>
<line x1="1173.7" y1="597.5" x2="1205.1" y2="597.5" stroke-width="2.6"/>
<line x1="1173.7" y1="639" x2="1205.1" y2="639" stroke-width="1.6"/>
<path d="M1173.7 639 A15.7 15.7 0 0 0 1205.1 639" stroke-width="2.2" fill="none"/>
<line x1="973.3" y1="402.9" x2="1040" y2="402.9" stroke-width="1.8"/>
<line x1="1048.1" y1="402.9" x2="1060" y2="402.9" stroke-width="1.8"/>
<line x1="1068.1" y1="402.9" x2="1119.9" y2="402.9" stroke-width="1.8"/>
<line x1="1128.1" y1="402.9" x2="1139.9" y2="402.9" stroke-width="1.8"/>
<line x1="1148.1" y1="402.9" x2="1199.9" y2="402.9" stroke-width="1.8"/>
<line x1="1208" y1="402.9" x2="1219.9" y2="402.9" stroke-width="1.8"/>
<line x1="1228" y1="402.9" x2="1293.9" y2="402.9" stroke-width="1.8"/>
<line x1="1110.9" y1="529" x2="1110.9" y2="640" stroke-width="1.8" stroke-dasharray="18 5 50 6 22 4"/>
<line x1="1110.9" y1="640" x2="1110.9" y2="660" stroke-width="1.8"/>
<line x1="1110.9" y1="666" x2="1110.9" y2="757" stroke-width="1.8"/>
<line x1="1189.8" y1="529" x2="1189.8" y2="690" stroke-width="2.6" stroke-dasharray="60 5 8 5 34 5"/>
<line x1="1189.8" y1="690" x2="1189.8" y2="757" stroke-width="1.8"/>
<line x1="1045" y1="262.3" x2="1045" y2="302.5" stroke-width="1.8"/>
<line x1="989.9" y1="458" x2="989.9" y2="756.4" stroke-width="1.8"/>
<line x1="1044.9" y1="503.3" x2="1044.9" y2="702.4" stroke-width="1.8"/>
<line x1="1173.7" y1="639" x2="1173.7" y2="702.4" stroke-width="1.8"/>
<line x1="1205.1" y1="639" x2="1205.1" y2="702.4" stroke-width="1.8"/>
<line x1="919.2" y1="348" x2="1033" y2="348" stroke-width="1.8"/>
<line x1="919.2" y1="458" x2="1033" y2="458" stroke-width="1.8"/>
<line x1="955.5" y1="351.1" x2="987.8" y2="351.1" stroke-width="1.8"/>
<line x1="955.5" y1="455" x2="987.8" y2="455" stroke-width="1.8"/>
<line x1="1045" y1="269" x2="1243.2" y2="269" stroke-width="1.8"/>
<path d="M1045 269 L1059.5 266.1 L1059.5 271.9 Z" fill="#000" stroke="none"/>
<path d="M1243.2 269 L1228.7 271.9 L1228.7 266.1 Z" fill="#000" stroke="none"/>
<text class="t" x="1123.6" y="263.4" font-size="24.3" textLength="34.2" lengthAdjust="spacingAndGlyphs" style="stroke:#000;stroke-width:0.56px;stroke-linejoin:round">6.3</text>
<line x1="926.6" y1="348" x2="926.6" y2="458" stroke-width="1.8"/>
<path d="M926.6 348 L929.5 362.5 L923.7 362.5 Z" fill="#000" stroke="none"/>
<path d="M926.6 458 L923.7 443.5 L929.5 443.5 Z" fill="#000" stroke="none"/>
<text class="t" font-size="24.3" textLength="45" lengthAdjust="spacingAndGlyphs" style="stroke:#000;stroke-width:0.85px;stroke-linejoin:round" transform="translate(921.5 423.2) rotate(-90)" x="0" y="0">ø3.5</text>
<line x1="963.1" y1="351.1" x2="963.1" y2="455" stroke-width="1.8"/>
<path d="M963.1 351.1 L966 365.6 L960.2 365.6 Z" fill="#000" stroke="none"/>
<path d="M963.1 455 L960.2 440.5 L966 440.5 Z" fill="#000" stroke="none"/>
<text class="t" font-size="24.3" textLength="45" lengthAdjust="spacingAndGlyphs" style="stroke:#000;stroke-width:0.85px;stroke-linejoin:round" transform="translate(957.8 427.9) rotate(-90)" x="0" y="0">ø3.3</text>
<line x1="1044.9" y1="695.8" x2="1110.9" y2="695.8" stroke-width="1.8"/>
<path d="M1044.9 695.8 L1059.4 692.9 L1059.4 698.7 Z" fill="#000" stroke="none"/>
<path d="M1110.9 695.8 L1096.4 698.7 L1096.4 692.9 Z" fill="#000" stroke="none"/>
<text class="t" x="1061.75" y="690.8" font-size="24.3" textLength="31.7" lengthAdjust="spacingAndGlyphs" style="stroke:#000;stroke-width:0.64px;stroke-linejoin:round">2.1</text>
<line x1="1141" y1="695.8" x2="1304.9" y2="695.8" stroke-width="1.8"/>
<path d="M1173.7 695.8 L1159.2 698.7 L1159.2 692.9 Z" fill="#000" stroke="none"/>
<path d="M1205.1 695.8 L1219.6 692.9 L1219.6 698.7 Z" fill="#000" stroke="none"/>
<text class="t" x="1241.15" y="690.8" font-size="24.3" textLength="59.9" lengthAdjust="spacingAndGlyphs" style="stroke:#000;stroke-width:0.57px;stroke-linejoin:round">1±0.1</text>
<line x1="989.9" y1="749.9" x2="1110.9" y2="749.9" stroke-width="1.8"/>
<path d="M989.9 749.9 L1004.4 747 L1004.4 752.8 Z" fill="#000" stroke="none"/>
<path d="M1110.9 749.9 L1096.4 752.8 L1096.4 747 Z" fill="#000" stroke="none"/>
<text class="t" x="1027.45" y="744.7" font-size="24.3" textLength="47.3" lengthAdjust="spacingAndGlyphs" style="stroke:#000;stroke-width:0.56px;stroke-linejoin:round">3.85</text>
<line x1="1110.9" y1="749.9" x2="1189.8" y2="749.9" stroke-width="1.8"/>
<path d="M1110.9 749.9 L1125.4 747 L1125.4 752.8 Z" fill="#000" stroke="none"/>
<path d="M1189.8 749.9 L1175.3 752.8 L1175.3 747 Z" fill="#000" stroke="none"/>
<text class="t" x="1134" y="744.7" font-size="24.3" textLength="34" lengthAdjust="spacingAndGlyphs" style="stroke:#000;stroke-width:0.56px;stroke-linejoin:round">2.5</text>
</g>
<g id="front">
<line x1="400.5" y1="996" x2="505.6" y2="996" stroke-width="2.8"/>
<line x1="402" y1="999.2" x2="504" y2="999.2" stroke-width="1.4"/>
<line x1="400.9" y1="996" x2="398" y2="1039" stroke-width="2.6"/>
<line x1="505.2" y1="996" x2="508.2" y2="1039" stroke-width="2.6"/>
<path d="M362.8 1050.5 C362.8 1033.5 404.2 1033.5 404.2 1050.5" stroke-width="2.2" fill="none"/>
<path d="M501.5 1050.5 C501.5 1033.5 543.2 1033.5 543.2 1050.5" stroke-width="2.2" fill="none"/>
<line x1="357" y1="1050.6" x2="548.8" y2="1050.6" stroke-width="2.6"/>
<line x1="358.4" y1="1058.8" x2="547.4" y2="1058.8" stroke-width="2.2"/>
<line x1="358.4" y1="1050.6" x2="358.4" y2="1150" stroke-width="2.9"/>
<line x1="364.8" y1="1050.6" x2="364.8" y2="1150" stroke-width="1.8"/>
<line x1="547.4" y1="1050.6" x2="547.4" y2="1150" stroke-width="2.9"/>
<line x1="541.2" y1="1050.6" x2="541.2" y2="1150" stroke-width="1.8"/>
<rect x="370.8" y="1112" width="22.8" height="10.4" stroke-width="2.2" fill="none"/>
<line x1="375.4" y1="1112" x2="375.4" y2="1122.4" stroke-width="1.5"/>
<line x1="390.4" y1="1112" x2="390.4" y2="1122.4" stroke-width="1.2"/>
<rect x="512" y="1112" width="23.6" height="10.4" stroke-width="2.2" fill="none"/>
<line x1="516.6" y1="1112" x2="516.6" y2="1122.4" stroke-width="1.5"/>
<rect x="531" y="1112" width="4.6" height="10.4" stroke-width="2" fill="#000"/>
<rect x="335.6" y="1116.6" width="13" height="132.6" stroke-width="2.4" fill="none"/>
<rect x="557.8" y="1116.6" width="12.6" height="132.6" stroke-width="2.4" fill="none"/>
<line x1="570.4" y1="1116.6" x2="570.4" y2="1249.2" stroke-width="3"/>
<path d="M335.6 1179.8 L318 1179.8 L318 1212 L348.6 1212" stroke-width="2.4" fill="none"/>
<line x1="318.4" y1="1179.8" x2="318.4" y2="1212" stroke-width="3.4"/>
<line x1="335.6" y1="1179.8" x2="348.6" y2="1179.8" stroke-width="2"/>
<path d="M570.4 1179.8 L588 1179.8 L588 1212 L557.8 1212" stroke-width="2.4" fill="none"/>
<line x1="587.6" y1="1179.8" x2="587.6" y2="1212" stroke-width="3.4"/>
<line x1="557.8" y1="1212" x2="588" y2="1212" stroke-width="3"/>
<line x1="557.8" y1="1179.8" x2="570.4" y2="1179.8" stroke-width="2"/>
<path d="M348.6 1159 Q349 1150.2 358.5 1150.2 L547.5 1150.2 Q557.4 1150.2 557.8 1159" stroke-width="2.4" fill="none"/>
<path d="M348.6 1173 Q349.5 1160.6 360 1160.6 L546 1160.6 Q556.8 1160.6 557.8 1173" stroke-width="2.4" fill="none"/>
<path d="M424.2 1150 L424.2 1140 L481.6 1140 L481.6 1150" stroke-width="2.4" fill="none"/>
<line x1="424.2" y1="1140" x2="481.6" y2="1140" stroke-width="2.8"/>
<path d="M365 1160.6 C372 1179 399 1179 406.7 1160.6" stroke-width="2.4" fill="none"/>
<path d="M499.4 1160.6 C507 1179 534 1179 541.6 1160.6" stroke-width="2.4" fill="none"/>
<line x1="453" y1="962.9" x2="453" y2="995.5" stroke-width="1.8"/>
<line x1="453" y1="1001.7" x2="453" y2="1014.7" stroke-width="1.8"/>
<line x1="453" y1="1021.5" x2="453" y2="1075" stroke-width="1.8"/>
<line x1="453" y1="1081.5" x2="453" y2="1094.4" stroke-width="1.8"/>
<line x1="453" y1="1100.9" x2="453" y2="1154.7" stroke-width="1.8"/>
<line x1="453" y1="1162.3" x2="453" y2="1174.1" stroke-width="1.8"/>
<line x1="453" y1="1180.6" x2="453" y2="1234.5" stroke-width="1.8"/>
<line x1="453" y1="1242" x2="453" y2="1253.9" stroke-width="1.8"/>
<line x1="453" y1="1260.3" x2="453" y2="1293.8" stroke-width="1.8"/>
<line x1="587.9" y1="900" x2="587.9" y2="1082.8" stroke-width="1.8"/>
<line x1="516.7" y1="1037.8" x2="595" y2="1037.8" stroke-width="1.8"/>
<line x1="553.2" y1="1050.9" x2="595" y2="1050.9" stroke-width="1.8"/>
<path d="M587.9 1037.8 L585 1023.8 L590.8 1023.8 Z" fill="#000" stroke="none"/>
<path d="M587.9 1050.9 L590.8 1064.9 L585 1064.9 Z" fill="#000" stroke="none"/>
<text class="t" font-size="25" textLength="32.5" lengthAdjust="spacingAndGlyphs" style="stroke:#000;stroke-width:0.85px;stroke-linejoin:round" transform="translate(582.6 999.45) rotate(-90)" x="0" y="0">0.4</text>
<text class="t" font-size="25" textLength="45" lengthAdjust="spacingAndGlyphs" style="stroke:#000;stroke-width:0.85px;stroke-linejoin:round" transform="translate(582.6 950.7) rotate(-90)" x="0" y="0">Max.</text>
<circle cx="340" cy="965.3" r="11.4" stroke-width="2.2" fill="none"/>
<text class="t" x="340" y="972.2" font-size="19.5" text-anchor="middle" style="stroke:#000;stroke-width:1.2px;stroke-linejoin:round">4</text>
<circle cx="340" cy="994.3" r="11.4" stroke-width="2.2" fill="none"/>
<text class="t" x="340" y="1001.2" font-size="19.5" text-anchor="middle" style="stroke:#000;stroke-width:1.2px;stroke-linejoin:round">3</text>
<line x1="327.2" y1="979.9" x2="352" y2="979.9" stroke-width="2"/>
<line x1="352" y1="979.9" x2="352" y2="1008.8" stroke-width="2.6"/>
<line x1="327.2" y1="1008.8" x2="352" y2="1008.8" stroke-width="2.6"/>
<line x1="352" y1="979.9" x2="416.6" y2="1037.3" stroke-width="1.8"/>
<path d="M416.6 1037.3 L403.83 1029.84 L407.68 1025.5 Z" fill="#000" stroke="none"/>
<circle cx="619.4" cy="1142.1" r="11.4" stroke-width="2.2" fill="none"/>
<text class="t" x="619.4" y="1149" font-size="19.5" text-anchor="middle" style="stroke:#000;stroke-width:1.2px;stroke-linejoin:round">1</text>
<line x1="608.6" y1="1157" x2="634" y2="1157" stroke-width="1.8"/>
<line x1="608.6" y1="1157" x2="513.4" y2="1091.6" stroke-width="1.8"/>
<path d="M513.4 1091.6 L526.99 1097.42 L523.71 1102.2 Z" fill="#000" stroke="none"/>
<circle cx="633.4" cy="1265.7" r="11.4" stroke-width="2.2" fill="none"/>
<text class="t" x="633.4" y="1272.6" font-size="19.5" text-anchor="middle" style="stroke:#000;stroke-width:1.2px;stroke-linejoin:round">5</text>
<line x1="622.7" y1="1281.1" x2="648" y2="1281.1" stroke-width="1.8"/>
<line x1="622.7" y1="1281.1" x2="559.8" y2="1235.2" stroke-width="1.8"/>
<path d="M559.8 1235.2 L573.22 1241.4 L569.81 1246.09 Z" fill="#000" stroke="none"/>
</g>
<g id="pcb">
<circle cx="907.6" cy="997.3" r="20.4" stroke-width="2.8" fill="none"/>
<circle cx="1127.6" cy="997.3" r="20.4" stroke-width="2.8" fill="none"/>
<circle cx="947" cy="1076" r="15.7" stroke-width="2.8" fill="none"/>
<circle cx="1088.4" cy="1076" r="15.7" stroke-width="2.8" fill="none"/>
<line x1="872.2" y1="997.3" x2="930.5" y2="997.3" stroke-width="3"/>
<line x1="937.7" y1="997.3" x2="951" y2="997.3" stroke-width="3"/>
<line x1="961.2" y1="997.3" x2="1010.4" y2="997.3" stroke-width="3"/>
<line x1="1017.5" y1="997.3" x2="1030.8" y2="997.3" stroke-width="3"/>
<line x1="1039" y1="997.3" x2="1092.3" y2="997.3" stroke-width="3"/>
<line x1="1099.4" y1="997.3" x2="1106.6" y2="997.3" stroke-width="3"/>
<line x1="1114.8" y1="997.3" x2="1177.8" y2="997.3" stroke-width="3"/>
<line x1="850" y1="1076" x2="898.8" y2="1076" stroke-width="1.9"/>
<line x1="904.3" y1="1076" x2="963.3" y2="1076" stroke-width="1.9"/>
<line x1="972.5" y1="1076" x2="983.8" y2="1076" stroke-width="1.9"/>
<line x1="992" y1="1076" x2="1043" y2="1076" stroke-width="1.9"/>
<line x1="1051.3" y1="1076" x2="1063.6" y2="1076" stroke-width="1.9"/>
<line x1="1071.8" y1="1076" x2="1131.8" y2="1076" stroke-width="1.9"/>
<line x1="1017.3" y1="976" x2="1017.3" y2="1027.1" stroke-width="2.8"/>
<line x1="1017.3" y1="1033.3" x2="1017.3" y2="1047.6" stroke-width="2.8"/>
<line x1="1017.3" y1="1053.8" x2="1017.3" y2="1110" stroke-width="2.8"/>
<line x1="907.6" y1="962.7" x2="907.6" y2="1035.3" stroke-width="3"/>
<line x1="1127.6" y1="962.7" x2="1127.6" y2="1041.5" stroke-width="3"/>
<line x1="947" y1="1041.5" x2="947" y2="1110" stroke-width="2.2"/>
<line x1="1088.4" y1="1042.5" x2="1088.4" y2="1110" stroke-width="3"/>
<line x1="907.6" y1="934" x2="907.6" y2="957.6" stroke-width="2"/>
<line x1="1127.6" y1="934" x2="1127.6" y2="957.6" stroke-width="2"/>
<line x1="947" y1="1114" x2="947" y2="1157" stroke-width="2"/>
<line x1="1088.4" y1="1114" x2="1088.4" y2="1157" stroke-width="2"/>
<line x1="850" y1="997.3" x2="867" y2="997.3" stroke-width="1.8"/>
<line x1="907.6" y1="940.6" x2="1127.6" y2="940.6" stroke-width="2"/>
<path d="M907.6 940.6 L922.1 937.7 L922.1 943.5 Z" fill="#000" stroke="none"/>
<path d="M1127.6 940.6 L1113.1 943.5 L1113.1 937.7 Z" fill="#000" stroke="none"/>
<text class="t" x="990.15" y="935.4" font-size="24.3" textLength="47.7" lengthAdjust="spacingAndGlyphs" style="stroke:#000;stroke-width:0.56px;stroke-linejoin:round">7.00</text>
<line x1="947" y1="1150" x2="1088.4" y2="1150" stroke-width="2"/>
<path d="M947 1150 L961.5 1147.1 L961.5 1152.9 Z" fill="#000" stroke="none"/>
<path d="M1088.4 1150 L1073.9 1152.9 L1073.9 1147.1 Z" fill="#000" stroke="none"/>
<text class="t" x="990.15" y="1144.9" font-size="24.3" textLength="47.7" lengthAdjust="spacingAndGlyphs" style="stroke:#000;stroke-width:0.56px;stroke-linejoin:round">4.50</text>
<line x1="856.8" y1="997.3" x2="856.8" y2="1076" stroke-width="2"/>
<path d="M856.8 997.3 L859.7 1011.8 L853.9 1011.8 Z" fill="#000" stroke="none"/>
<path d="M856.8 1076 L853.9 1061.5 L859.7 1061.5 Z" fill="#000" stroke="none"/>
<text class="t" font-size="24.3" textLength="45" lengthAdjust="spacingAndGlyphs" style="stroke:#000;stroke-width:0.85px;stroke-linejoin:round" transform="translate(851.6 1060.3) rotate(-90)" x="0" y="0">2.50</text>
<line x1="1169" y1="960.8" x2="1263.8" y2="960.8" stroke-width="1.8"/>
<line x1="1169" y1="960.8" x2="1088.6" y2="1031.9" stroke-width="1.8"/>
<path d="M1142.9 983.81 L1151.49 972.38 L1155.32 976.73 Z" fill="#000" stroke="none"/>
<path d="M1112.3 1010.79 L1103.71 1022.22 L1099.88 1017.87 Z" fill="#000" stroke="none"/>
<text class="t" x="1174.35" y="955.1" font-size="24.3" textLength="91.1" lengthAdjust="spacingAndGlyphs" style="stroke:#000;stroke-width:0.56px;stroke-linejoin:round">2−ø1.30</text>
<line x1="1167" y1="1117.6" x2="1260.1" y2="1117.6" stroke-width="1.8"/>
<line x1="1167" y1="1117.6" x2="1046.2" y2="1053.4" stroke-width="1.8"/>
<path d="M1102.28 1083.34 L1116.01 1087.33 L1113.29 1092.46 Z" fill="#000" stroke="none"/>
<path d="M1074.52 1068.66 L1060.79 1064.67 L1063.51 1059.54 Z" fill="#000" stroke="none"/>
<text class="t" x="1170.85" y="1112.1" font-size="24.3" textLength="91.1" lengthAdjust="spacingAndGlyphs" style="stroke:#000;stroke-width:0.56px;stroke-linejoin:round">2−ø1.00</text>
<text class="t" x="910.32" y="1223.5" font-size="19.3" textLength="110.85" lengthAdjust="spacingAndGlyphs" style="stroke:#000;stroke-width:1.1px;stroke-linejoin:round">Recommend</text>
<text class="t" x="1030.82" y="1223.5" font-size="19.3" textLength="35.35" lengthAdjust="spacingAndGlyphs" style="stroke:#000;stroke-width:1.25px;stroke-linejoin:round">PCB</text>
<text class="t" x="1077.82" y="1223.5" font-size="19.3" textLength="57.45" lengthAdjust="spacingAndGlyphs" style="stroke:#000;stroke-width:1.11px;stroke-linejoin:round">Layout</text>
<text class="t" x="910.32" y="1246.4" font-size="19.3" textLength="35.35" lengthAdjust="spacingAndGlyphs" style="stroke:#000;stroke-width:1.25px;stroke-linejoin:round">PCB</text>
<text class="t" x="957.32" y="1246.4" font-size="19.3" textLength="32.35" lengthAdjust="spacing" style="stroke:#000;stroke-width:1.1px;stroke-linejoin:round">Top</text>
<text class="t" x="999.32" y="1246.4" font-size="19.3" textLength="37.15" lengthAdjust="spacingAndGlyphs" style="stroke:#000;stroke-width:1.24px;stroke-linejoin:round">View</text>
<text class="t" x="910.32" y="1269" font-size="19.3" textLength="88.85" lengthAdjust="spacingAndGlyphs" style="stroke:#000;stroke-width:1.1px;stroke-linejoin:round">Tolerance:</text>
<text class="t" x="1011.32" y="1269" font-size="19.3" textLength="87.25" lengthAdjust="spacing" style="stroke:#000;stroke-width:1.1px;stroke-linejoin:round">±0.05mm</text>
<text class="t" x="910.32" y="1291.5" font-size="19.3" textLength="110.85" lengthAdjust="spacingAndGlyphs" style="stroke:#000;stroke-width:1.1px;stroke-linejoin:round">Recommend</text>
<text class="t" x="1030.82" y="1291.5" font-size="19.3" textLength="35.35" lengthAdjust="spacingAndGlyphs" style="stroke:#000;stroke-width:1.25px;stroke-linejoin:round">PCB</text>
<text class="t" x="1077.82" y="1291.5" font-size="19.3" textLength="149.95" lengthAdjust="spacingAndGlyphs" style="stroke:#000;stroke-width:1.11px;stroke-linejoin:round">Thickness:1.6mm</text>
</g>
<g id="notes">
<text class="t" x="1504.86" y="294.6" font-size="24" textLength="73.58" lengthAdjust="spacingAndGlyphs" style="stroke:#000;stroke-width:0.96px;stroke-linejoin:round">NOTES:</text>
<text class="t" x="1512.66" y="326.6" font-size="24" textLength="16.68" lengthAdjust="spacingAndGlyphs" style="stroke:#000;stroke-width:0.94px;stroke-linejoin:round">1.</text>
<text class="t" x="1530.36" y="326.6" font-size="24" textLength="101.28" lengthAdjust="spacingAndGlyphs" style="stroke:#000;stroke-width:0.97px;stroke-linejoin:round">ELECTCAL</text>
<text class="t" x="1644.16" y="326.6" font-size="24" textLength="188.18" lengthAdjust="spacingAndGlyphs" style="stroke:#000;stroke-width:0.99px;stroke-linejoin:round">CHARACTERISTICS:</text>
<text class="t" x="1530.96" y="353.8" font-size="24" textLength="48.38" lengthAdjust="spacingAndGlyphs" style="stroke:#000;stroke-width:0.7px;stroke-linejoin:round">1−1.</text>
<text class="t" x="1579.76" y="353.8" font-size="24" textLength="93.08" lengthAdjust="spacingAndGlyphs" style="stroke:#000;stroke-width:0.97px;stroke-linejoin:round">CONTACT</text>
<text class="t" x="1686.06" y="353.8" font-size="24" textLength="95.78" lengthAdjust="spacingAndGlyphs" style="stroke:#000;stroke-width:0.97px;stroke-linejoin:round">CURRENT</text>
<text class="t" x="1796.16" y="353.8" font-size="24" textLength="76.58" lengthAdjust="spacingAndGlyphs" style="stroke:#000;stroke-width:1px;stroke-linejoin:round">RATING:</text>
<text class="t" x="1902.26" y="353.8" font-size="24" textLength="65.58" lengthAdjust="spacingAndGlyphs" style="stroke:#000;stroke-width:0.77px;stroke-linejoin:round">50mA.</text>
<text class="t" x="1530.96" y="380.6" font-size="24" textLength="48.38" lengthAdjust="spacingAndGlyphs" style="stroke:#000;stroke-width:0.7px;stroke-linejoin:round">1−2.</text>
<text class="t" x="1579.76" y="380.6" font-size="24" textLength="93.08" lengthAdjust="spacingAndGlyphs" style="stroke:#000;stroke-width:0.97px;stroke-linejoin:round">CONTACT</text>
<text class="t" x="1684.26" y="380.6" font-size="24" textLength="90.58" lengthAdjust="spacingAndGlyphs" style="stroke:#000;stroke-width:0.95px;stroke-linejoin:round">VOLTAGE</text>
<text class="t" x="1788.86" y="380.6" font-size="24" textLength="76.58" lengthAdjust="spacingAndGlyphs" style="stroke:#000;stroke-width:1px;stroke-linejoin:round">RATING:</text>
<text class="t" x="1881.36" y="380.6" font-size="24" textLength="44.38" lengthAdjust="spacingAndGlyphs" style="stroke:#000;stroke-width:0.77px;stroke-linejoin:round">12V.</text>
<text class="t" x="1940.96" y="380.6" font-size="24" textLength="33.88" lengthAdjust="spacingAndGlyphs" style="stroke:#000;stroke-width:0.96px;stroke-linejoin:round">DC.</text>
<text class="t" x="1530.96" y="408" font-size="24" textLength="48.38" lengthAdjust="spacingAndGlyphs" style="stroke:#000;stroke-width:0.7px;stroke-linejoin:round">1−3.</text>
<text class="t" x="1579.76" y="408" font-size="24" textLength="93.08" lengthAdjust="spacingAndGlyphs" style="stroke:#000;stroke-width:0.97px;stroke-linejoin:round">CONTACT</text>
<text class="t" x="1686.86" y="408" font-size="24" textLength="128.88" lengthAdjust="spacingAndGlyphs" style="stroke:#000;stroke-width:0.97px;stroke-linejoin:round">RESISTANCE:</text>
<text class="t" x="1833.16" y="408" font-size="24" textLength="72.48" lengthAdjust="spacingAndGlyphs" style="stroke:#000;stroke-width:0.79px;stroke-linejoin:round">100mΩ</text>
<text class="t" x="1919.66" y="408" font-size="24" textLength="47.38" lengthAdjust="spacingAndGlyphs" style="stroke:#000;stroke-width:0.99px;stroke-linejoin:round">MAX.</text>
<text class="t" x="1530.96" y="435" font-size="24" textLength="48.38" lengthAdjust="spacingAndGlyphs" style="stroke:#000;stroke-width:0.7px;stroke-linejoin:round">1−4.</text>
<text class="t" x="1580.66" y="435" font-size="24" textLength="114.88" lengthAdjust="spacingAndGlyphs" style="stroke:#000;stroke-width:0.99px;stroke-linejoin:round">DIELECTRIC</text>
<text class="t" x="1709.06" y="435" font-size="24" textLength="147.68" lengthAdjust="spacingAndGlyphs" style="stroke:#000;stroke-width:0.99px;stroke-linejoin:round">WITHSTANDING</text>
<text class="t" x="1869.86" y="435" font-size="24" textLength="95.08" lengthAdjust="spacingAndGlyphs" style="stroke:#000;stroke-width:0.97px;stroke-linejoin:round">VOLTAGE:</text>
<text class="t" x="1980.16" y="435" font-size="24" textLength="58.78" lengthAdjust="spacingAndGlyphs" style="stroke:#000;stroke-width:0.73px;stroke-linejoin:round">500V.</text>
<text class="t" x="2052.06" y="435" font-size="24" textLength="33.98" lengthAdjust="spacingAndGlyphs" style="stroke:#000;stroke-width:0.91px;stroke-linejoin:round">AC.</text>
<text class="t" x="2100.86" y="435" font-size="24" textLength="30.48" lengthAdjust="spacing" style="stroke:#000;stroke-width:0.7px;stroke-linejoin:round">for</text>
<text class="t" x="2145.16" y="435" font-size="24" textLength="10.68" lengthAdjust="spacingAndGlyphs" style="stroke:#000;stroke-width:1px;stroke-linejoin:round">1</text>
<text class="t" x="2173.16" y="435" font-size="24" textLength="74.48" lengthAdjust="spacingAndGlyphs" style="stroke:#000;stroke-width:0.98px;stroke-linejoin:round">MINUTE</text>
<text class="t" x="1530.96" y="462.7" font-size="24" textLength="48.38" lengthAdjust="spacingAndGlyphs" style="stroke:#000;stroke-width:0.7px;stroke-linejoin:round">1−5.</text>
<text class="t" x="1581.46" y="462.7" font-size="24" textLength="116.68" lengthAdjust="spacingAndGlyphs" style="stroke:#000;stroke-width:0.96px;stroke-linejoin:round">INSULATION</text>
<text class="t" x="1713.06" y="462.7" font-size="24" textLength="129.68" lengthAdjust="spacingAndGlyphs" style="stroke:#000;stroke-width:0.96px;stroke-linejoin:round">RESISTANCE:</text>
<text class="t" x="1858.86" y="462.7" font-size="24" textLength="38.98" lengthAdjust="spacingAndGlyphs" style="stroke:#000;stroke-width:0.73px;stroke-linejoin:round">100</text>
<text class="t" x="1912.76" y="462.7" font-size="24" textLength="29.48" lengthAdjust="spacingAndGlyphs" style="stroke:#000;stroke-width:1.04px;stroke-linejoin:round">MΩ</text>
<text class="t" x="1956.76" y="462.7" font-size="24" textLength="66.48" lengthAdjust="spacingAndGlyphs" style="stroke:#000;stroke-width:0.94px;stroke-linejoin:round">MIN.AT</text>
<text class="t" x="2038.16" y="462.7" font-size="24" textLength="56.58" lengthAdjust="spacingAndGlyphs" style="stroke:#000;stroke-width:0.78px;stroke-linejoin:round">100V.</text>
<text class="t" x="2109.56" y="462.7" font-size="24" textLength="28.68" lengthAdjust="spacingAndGlyphs" style="stroke:#000;stroke-width:0.95px;stroke-linejoin:round">DC</text>
<text class="t" x="1509.86" y="491.3" font-size="24" textLength="19.48" lengthAdjust="spacingAndGlyphs" style="stroke:#000;stroke-width:0.73px;stroke-linejoin:round">2.</text>
<text class="t" x="1530.16" y="491.3" font-size="24" textLength="128.18" lengthAdjust="spacingAndGlyphs" style="stroke:#000;stroke-width:0.97px;stroke-linejoin:round">MECHANICAL</text>
<text class="t" x="1672.56" y="491.3" font-size="24" textLength="187.98" lengthAdjust="spacingAndGlyphs" style="stroke:#000;stroke-width:0.99px;stroke-linejoin:round">CHARACTERISTICS:</text>
<text class="t" x="1530.36" y="520.7" font-size="24" textLength="48.98" lengthAdjust="spacing" style="stroke:#000;stroke-width:0.7px;stroke-linejoin:round">2−1.</text>
<text class="t" x="1581.56" y="520.7" font-size="24" textLength="120.98" lengthAdjust="spacingAndGlyphs" style="stroke:#000;stroke-width:0.95px;stroke-linejoin:round">DURABILITY:</text>
<text class="t" x="1718.46" y="520.7" font-size="24" textLength="79.28" lengthAdjust="spacingAndGlyphs" style="stroke:#000;stroke-width:0.71px;stroke-linejoin:round">100000</text>
<text class="t" x="1811.86" y="520.7" font-size="24" textLength="83.98" lengthAdjust="spacingAndGlyphs" style="stroke:#000;stroke-width:0.97px;stroke-linejoin:round">CYCLES.</text>
<text class="t" x="1530.34" y="553.4" font-size="24.6" textLength="54.52" lengthAdjust="spacing" style="stroke:#000;stroke-width:0.69px;stroke-linejoin:round">2−2.</text>
<text class="t" x="1586.74" y="553.4" font-size="24.6" textLength="62.92" lengthAdjust="spacingAndGlyphs" style="stroke:#000;stroke-width:0.8px;stroke-linejoin:round">PUSH</text>
<text class="t" x="1666.04" y="553.4" font-size="24.6" textLength="81.92" lengthAdjust="spacingAndGlyphs" style="stroke:#000;stroke-width:0.86px;stroke-linejoin:round">FORCE:</text>
<text class="t" x="1798.44" y="553.4" font-size="24.6" textLength="144.42" lengthAdjust="spacing" style="stroke:#000;stroke-width:0.69px;stroke-linejoin:round">160gf±50gf.</text>
<text class="t" x="1508.46" y="584.2" font-size="24" textLength="19.38" lengthAdjust="spacingAndGlyphs" style="stroke:#000;stroke-width:0.74px;stroke-linejoin:round">3.</text>
<text class="t" x="1528.66" y="584.2" font-size="24" textLength="142.08" lengthAdjust="spacingAndGlyphs" style="stroke:#000;stroke-width:0.98px;stroke-linejoin:round">ENVIRENMENT</text>
<text class="t" x="1684.36" y="584.2" font-size="24" textLength="187.98" lengthAdjust="spacingAndGlyphs" style="stroke:#000;stroke-width:0.99px;stroke-linejoin:round">CHARACTERISTICS:</text>
<text class="t" x="1528.66" y="620" font-size="24" textLength="49.68" lengthAdjust="spacing" style="stroke:#000;stroke-width:0.7px;stroke-linejoin:round">3−1.</text>
<text class="t" x="1579.66" y="620" font-size="24" textLength="113.48" lengthAdjust="spacingAndGlyphs" style="stroke:#000;stroke-width:0.98px;stroke-linejoin:round">OPERATING</text>
<text class="t" x="1705.96" y="620" font-size="24" textLength="196.38" lengthAdjust="spacingAndGlyphs" style="stroke:#000;stroke-width:0.89px;stroke-linejoin:round">TEMPERATURE.−20</text>
<text class="t" x="1901.47" y="617" font-size="15" textLength="20.55" lengthAdjust="spacingAndGlyphs" style="stroke:#000;stroke-width:0.41px;stroke-linejoin:round">℃</text>
<text class="t" x="1923.16" y="620" font-size="24" textLength="61.18" lengthAdjust="spacing" style="stroke:#000;stroke-width:0.7px;stroke-linejoin:round">~+70</text>
<text class="t" x="1983.97" y="617" font-size="15" textLength="20.55" lengthAdjust="spacingAndGlyphs" style="stroke:#000;stroke-width:0.41px;stroke-linejoin:round">℃</text>
<text class="t" x="1528.66" y="651" font-size="24" textLength="49.68" lengthAdjust="spacing" style="stroke:#000;stroke-width:0.7px;stroke-linejoin:round">3−2.</text>
<text class="t" x="1579.66" y="651" font-size="24" textLength="94.58" lengthAdjust="spacingAndGlyphs" style="stroke:#000;stroke-width:0.95px;stroke-linejoin:round">HUMIDTY:</text>
<text class="t" x="1674.96" y="651" font-size="24" textLength="87.48" lengthAdjust="spacingAndGlyphs" style="stroke:#000;stroke-width:0.72px;stroke-linejoin:round">45−85%</text>
<text class="t" x="1777.26" y="651" font-size="24" textLength="34.58" lengthAdjust="spacingAndGlyphs" style="stroke:#000;stroke-width:0.93px;stroke-linejoin:round">RH.</text>
</g>
<g id="schem">
<rect x="1633.8" y="829.6" width="387.4" height="305.4" stroke-width="2.8" fill="none"/>
<line x1="1633.8" y1="1093.2" x2="2021.2" y2="1093.2" stroke-width="2.8"/>
<circle cx="1691" cy="893.5" r="11" stroke-width="2" fill="none"/>
<text class="t" x="1691" y="900.4" font-size="19.5" text-anchor="middle" style="stroke:#000;stroke-width:0.8px;stroke-linejoin:round">1</text>
<circle cx="1875" cy="893.5" r="11" stroke-width="2" fill="none"/>
<text class="t" x="1875" y="900.4" font-size="19.5" text-anchor="middle" style="stroke:#000;stroke-width:0.8px;stroke-linejoin:round">4</text>
<circle cx="1691" cy="1011.4" r="11" stroke-width="2" fill="none"/>
<text class="t" x="1691" y="1018.3" font-size="19.5" text-anchor="middle" style="stroke:#000;stroke-width:0.8px;stroke-linejoin:round">2</text>
<circle cx="1950.8" cy="1011.4" r="11" stroke-width="2" fill="none"/>
<text class="t" x="1950.8" y="1018.3" font-size="19.5" text-anchor="middle" style="stroke:#000;stroke-width:0.8px;stroke-linejoin:round">3</text>
<line x1="1702" y1="893.5" x2="1864" y2="893.5" stroke-width="2.6"/>
<path d="M1886 893.5 L1973.6 893.5 L1973.6 921.6" stroke-width="2.6" fill="none"/>
<line x1="1946" y1="921.6" x2="2000.8" y2="921.6" stroke-width="2.6"/>
<line x1="1955" y1="930.6" x2="1991.8" y2="930.6" stroke-width="2.4"/>
<line x1="1964.2" y1="938.9" x2="1982.8" y2="938.9" stroke-width="2"/>
<circle cx="1779.1" cy="1011.4" r="8" stroke-width="2.2" fill="none"/>
<circle cx="1862.2" cy="1011.4" r="8" stroke-width="2.2" fill="none"/>
<line x1="1702" y1="1011.4" x2="1771" y2="1011.4" stroke-width="2.6"/>
<line x1="1870.4" y1="1011.4" x2="1939.8" y2="1011.4" stroke-width="2.6"/>
<line x1="1777.5" y1="1003.2" x2="1867.5" y2="969.1" stroke-width="2.4"/>
<text class="t" x="1786.06" y="1123.2" font-size="24" textLength="109.88" lengthAdjust="spacingAndGlyphs" style="stroke:#000;stroke-width:0.72px;stroke-linejoin:round">Schematic</text>
</g>
</svg>
</body></html>
